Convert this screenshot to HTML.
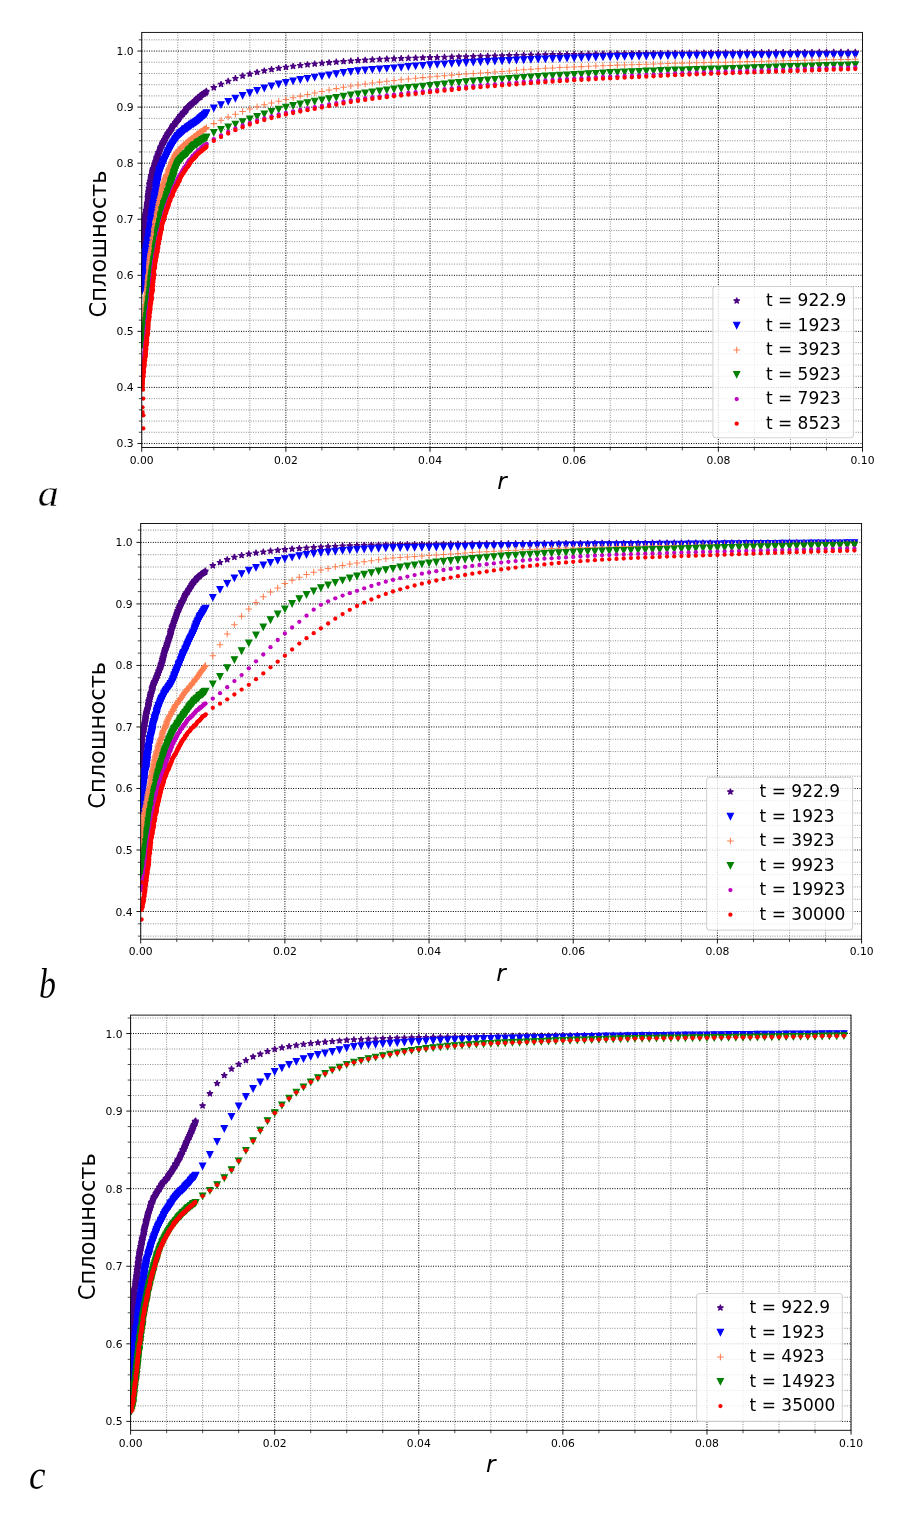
<!DOCTYPE html>
<html lang="ru"><head><meta charset="utf-8"><title>Сплошность</title>
<style>html,body{margin:0;padding:0;background:#fff}svg{display:block}text{filter:grayscale(1)}</style></head><body>
<svg width="908" height="1520" viewBox="0 0 908 1520">
<rect width="908" height="1520" fill="#fff"/>
<defs><marker id="kp" markerUnits="userSpaceOnUse" markerWidth="12" markerHeight="12" viewBox="-6 -6 12 12" refX="0" refY="0" overflow="visible"><path d="M0,-3.25L0.73,-1L3.09,-1L1.18,0.38L1.91,2.63L0,1.24L-1.91,2.63L-1.18,0.38L-3.09,-1L-0.73,-1Z" fill="#4b0082" stroke="#4b0082" stroke-width="1.05" stroke-linejoin="bevel"/></marker>
<g id="sp"><path d="M0,-3.25L0.73,-1L3.09,-1L1.18,0.38L1.91,2.63L0,1.24L-1.91,2.63L-1.18,0.38L-3.09,-1L-0.73,-1Z" fill="#4b0082" stroke="#4b0082" stroke-width="1.05" stroke-linejoin="bevel"/></g>
<marker id="kb" markerUnits="userSpaceOnUse" markerWidth="12" markerHeight="12" viewBox="-6 -6 12 12" refX="0" refY="0" overflow="visible"><path d="M-3.1,-3.1L3.1,-3.1L0,3.1Z" fill="#0000ff" stroke="#0000ff" stroke-width="1.05" stroke-linejoin="miter"/></marker>
<g id="sb"><path d="M-3.1,-3.1L3.1,-3.1L0,3.1Z" fill="#0000ff" stroke="#0000ff" stroke-width="1.05" stroke-linejoin="miter"/></g>
<marker id="ko" markerUnits="userSpaceOnUse" markerWidth="12" markerHeight="12" viewBox="-6 -6 12 12" refX="0" refY="0" overflow="visible"><path d="M-3.25,0H3.25M0,-3.25V3.25" fill="none" stroke="#ff7f50" stroke-width="1.05"/></marker>
<g id="so"><path d="M-3.25,0H3.25M0,-3.25V3.25" fill="none" stroke="#ff7f50" stroke-width="1.05"/></g>
<marker id="kg" markerUnits="userSpaceOnUse" markerWidth="12" markerHeight="12" viewBox="-6 -6 12 12" refX="0" refY="0" overflow="visible"><path d="M-3.1,-3.1L3.1,-3.1L0,3.1Z" fill="#008000" stroke="#008000" stroke-width="1.05" stroke-linejoin="miter"/></marker>
<g id="sg"><path d="M-3.1,-3.1L3.1,-3.1L0,3.1Z" fill="#008000" stroke="#008000" stroke-width="1.05" stroke-linejoin="miter"/></g>
<marker id="km" markerUnits="userSpaceOnUse" markerWidth="12" markerHeight="12" viewBox="-6 -6 12 12" refX="0" refY="0" overflow="visible"><circle r="2.15" fill="#bf00bf"/></marker>
<g id="sm"><circle r="2.15" fill="#bf00bf"/></g>
<marker id="kr" markerUnits="userSpaceOnUse" markerWidth="12" markerHeight="12" viewBox="-6 -6 12 12" refX="0" refY="0" overflow="visible"><circle r="2.15" fill="#ff0000"/></marker>
<g id="sr"><circle r="2.15" fill="#ff0000"/></g></defs>
<clipPath id="c0"><rect x="141.73" y="32.4" width="720.77" height="415.1"/></clipPath>
<g clip-path="url(#c0)">
<path d="M177.77,32.4V447.5M213.81,32.4V447.5M249.85,32.4V447.5M321.92,32.4V447.5M357.96,32.4V447.5M394,32.4V447.5M466.08,32.4V447.5M502.12,32.4V447.5M538.15,32.4V447.5M610.23,32.4V447.5M646.27,32.4V447.5M682.31,32.4V447.5M754.38,32.4V447.5M790.42,32.4V447.5M826.46,32.4V447.5" fill="none" stroke="#000" stroke-width="1.0" stroke-dasharray="1 1.42" stroke-opacity="0.45"/>
<path d="M141.73,432.27H862.5M141.73,421.06H862.5M141.73,409.84H862.5M141.73,398.63H862.5M141.73,376.21H862.5M141.73,365H862.5M141.73,353.78H862.5M141.73,342.57H862.5M141.73,320.15H862.5M141.73,308.94H862.5M141.73,297.72H862.5M141.73,286.51H862.5M141.73,264.09H862.5M141.73,252.88H862.5M141.73,241.66H862.5M141.73,230.45H862.5M141.73,208.03H862.5M141.73,196.82H862.5M141.73,185.6H862.5M141.73,174.39H862.5M141.73,151.97H862.5M141.73,140.76H862.5M141.73,129.54H862.5M141.73,118.33H862.5M141.73,95.91H862.5M141.73,84.7H862.5M141.73,73.48H862.5M141.73,62.27H862.5M141.73,39.85H862.5" fill="none" stroke="#000" stroke-width="1.0" stroke-dasharray="1 1.42" stroke-opacity="0.45"/>
<path d="M141.73,32.4V447.5M285.88,32.4V447.5M430.04,32.4V447.5M574.19,32.4V447.5M718.35,32.4V447.5M862.5,32.4V447.5" fill="none" stroke="#000" stroke-width="1.0" stroke-dasharray="1 1.42"/>
<path d="M141.73,443.48H862.5M141.73,387.42H862.5M141.73,331.36H862.5M141.73,275.3H862.5M141.73,219.24H862.5M141.73,163.18H862.5M141.73,107.12H862.5M141.73,51.06H862.5" fill="none" stroke="#000" stroke-width="1.0" stroke-dasharray="1 1.42"/>
<polyline points="141.9,247.3 142.2,246.5 142.1,245.7 141.7,244.8 141.8,244.1 142.4,243.3 141.6,242.4 142.5,241.7 142.6,240.9 142.3,240.1 142.2,239.2 142.3,238.4 142.3,237.6 142.6,236.9 142.7,236.1 142.9,235.3 143.4,234.5 143.3,233.7 143.2,232.9 143.6,232.1 142.9,231.2 143,230.4 143.5,229.7 143,228.8 143.1,228 143.7,227.3 143.7,226.5 144.2,225.7 144.1,224.9 144,224.1 144.1,223.3 144,222.5 143.9,221.6 144.1,220.9 144.7,220.1 144.4,219.3 144.7,218.5 144.4,217.6 145.4,217 144.8,216.1 145.1,215.3 145.8,214.6 145.6,213.8 146.1,213.1 146.1,212.2 146.4,211.5 146,210.6 146.7,209.9 146.8,209.1 147.3,208.4 146.9,207.5 147.3,206.7 146.9,205.9 147.3,205.1 147.3,204.3 147.2,203.5 148,202.8 147.6,201.9 148.3,201.2 148,200.3 148.1,199.5 148.2,198.7 148.3,198 147.9,197.1 148.3,196.3 148.2,195.5 148.4,194.7 148.2,193.9 149.2,193.2 148.5,192.3 149.1,191.6 148.8,190.7 149.4,190 149.3,189.2 148.9,188.3 149.7,187.6 149.9,186.8 150,186 149.8,185.2 149.5,184.3 149.7,183.5 150.6,182.9 150.4,182 150.1,181.2 151,180.5 150.9,179.7 151,178.9 151,178.1 151.2,177.3 151.3,176.5 151.3,175.6 152.3,175.1 152.1,174.2 152.3,173.4 152.3,172.6 152.9,171.9 152.4,171 153,170.3 152.9,169.4 153.2,168.6 154.2,168.1 154.1,167.3 154.1,166.4 154.5,165.7 155,165 154.8,164.1 155.2,163.4 155.6,162.7 155.5,161.8 155.9,161.1 156.4,160.4 156.8,159.7 156.3,158.7 157.3,158.2 156.7,157.1 157.7,156.6 158,155.9 157.7,154.9 158.2,154.2 158.9,153.6 158.4,152.6 159.3,152.1 159.7,151.4 159.8,150.5 160.2,149.8 160.1,148.9 160.3,148.2 160.8,147.5 160.9,146.7 161.4,146 162.3,145.5 162.2,144.6 162.3,143.8 162.6,143 163.6,142.5 163.4,141.6 164.3,141.1 164.2,140.2 164.6,139.5 165.3,139 165.6,138.2 165.8,137.4 166.1,136.6 166.9,136.2 166.9,135.3 167.8,134.8 167.5,133.7 168.2,133.2 168.7,132.6 169.5,132.2 169.4,131.1 170.3,130.7 170.6,130 171.1,129.4 171.5,128.6 172.2,128.2 172.1,127.1 172.6,126.5 172.9,125.7 173.3,125 173.9,124.4 174.9,124.2 175.3,123.5 175.2,122.4 176.1,122.1 176.5,121.3 177,120.8 177.6,120.2 177.8,119.3 178.8,119.1 178.9,118.1 179.5,117.6 180,117 180.1,116.1 180.5,115.4 181.3,114.9 182.1,114.5 182.6,114 183.1,113.3 183.1,112.3 184.3,112.2 184.7,111.5 185.3,111 185.6,110.1 186.4,109.8 186.3,108.6 186.9,108 187.4,107.5 188.2,107 188.7,106.5 189.3,105.9 190.1,105.6 190.3,104.6 191.3,104.5 191.6,103.6 192.5,103.4 192.6,102.4 193.4,102.1 194.4,102 194.7,101.1 195.5,100.8 196,100.1 196.6,99.6 196.9,98.7 197.8,98.5 198,97.6 199.1,97.6 199.9,97.2 200.4,96.7 200.5,95.5 201.3,95.2 202,94.7 202.5,94.1 203.4,94 204.2,93.7 204.5,92.8 205.5,92.8 206.1,92.2 206.4,91.2 213.8,87.6 221,84.3 228.2,81.2 235.4,78.4 242.6,76 249.8,74 257.1,72.3 264.3,70.8 271.5,69.5 278.7,68.3 285.9,67.3 293.1,66.3 300.3,65.4 307.5,64.6 314.7,63.9 321.9,63.2 329.1,62.6 336.3,62 343.5,61.5 350.8,61 358,60.5 365.2,60.1 372.4,59.7 379.6,59.3 386.8,59 394,58.7 401.2,58.4 408.4,58.2 415.6,58 422.8,57.8 430,57.6 437.2,57.4 444.5,57.2 451.7,57 458.9,56.8 466.1,56.7 473.3,56.5 480.5,56.3 487.7,56.2 494.9,56 502.1,55.8 509.3,55.6 516.5,55.4 523.7,55.2 530.9,55 538.2,54.9 545.4,54.8 552.6,54.6 559.8,54.6 567,54.5 574.2,54.4 581.4,54.3 588.6,54.2 595.8,54.1 603,54 610.2,53.9 617.4,53.8 624.6,53.7 631.9,53.6 639.1,53.5 646.3,53.4 653.5,53.3 660.7,53.3 667.9,53.2 675.1,53.1 682.3,53 689.5,53 696.7,52.9 703.9,52.8 711.1,52.8 718.3,52.7 725.6,52.7 732.8,52.7 740,52.6 747.2,52.6 754.4,52.5 761.6,52.5 768.8,52.5 776,52.4 783.2,52.4 790.4,52.4 797.6,52.3 804.8,52.3 812,52.3 819.3,52.2 826.5,52.2 833.7,52.2 840.9,52.2 848.1,52.2 855.3,52.2" fill="none" stroke="none" marker-start="url(#kp)" marker-mid="url(#kp)" marker-end="url(#kp)"/>
<polyline points="142,290.5 142.2,289.7 141.6,288.8 142,288 142.1,287.2 142.2,286.4 141.7,285.6 142.3,284.9 142.4,284.1 142.6,283.3 142.7,282.5 142.3,281.6 142.7,280.9 143,280.1 143.1,279.3 142.4,278.4 142.3,277.6 143,276.9 142.7,276 143.1,275.3 143.6,274.5 143.1,273.6 143,272.8 143.3,272.1 143.6,271.3 143.1,270.4 143.5,269.7 143.3,268.8 143.9,268.1 144.2,267.3 143.8,266.5 143.9,265.7 144.1,264.9 143.9,264.1 144,263.3 144.2,262.5 144.4,261.7 144.1,260.8 144.9,260.1 144.8,259.3 144.6,258.5 144.5,257.7 145.3,257 144.8,256.1 144.9,255.3 145,254.5 145.1,253.7 146,253 145.5,252.1 145.7,251.3 146.4,250.6 146.3,249.8 146.1,248.9 146.5,248.2 147.1,247.5 146.8,246.6 147.3,245.9 146.9,245 147.7,244.4 148,243.6 148.2,242.8 148.2,242 148,241.2 147.9,240.3 148.4,239.6 148.8,238.9 148.4,238 148.5,237.2 148.9,236.4 149.2,235.7 149.5,234.9 148.8,234 149,233.2 149.7,232.5 149.7,231.7 149.9,230.9 150.3,230.2 150.3,229.4 150.4,228.5 150.4,227.7 150.2,226.9 150.5,226.1 150.2,225.3 150.9,224.6 151,223.8 151.1,223 150.9,222.1 151,221.3 151.1,220.6 150.8,219.7 151.8,219 151.6,218.2 151.5,217.4 151.8,216.6 152.1,215.8 151.9,215 152.4,214.3 152.6,213.5 152.2,212.6 152.1,211.8 152.8,211.1 153.1,210.3 152.4,209.4 153.1,208.7 153.3,207.9 153.5,207.1 152.9,206.2 153,205.4 154,204.8 153.3,203.8 153.5,203.1 154.1,202.3 154.1,201.5 154.5,200.8 154.1,199.9 155,199.3 154.4,198.3 155.1,197.6 154.6,196.7 155.1,196 154.8,195.2 155.2,194.4 155.3,193.6 155.8,192.9 155.7,192 155.4,191.2 156.4,190.5 156.4,189.7 156.6,188.9 156,188 156.3,187.3 156.2,186.5 156.3,185.6 156.3,184.8 156.9,184.1 156.7,183.3 156.8,182.5 157.6,181.8 157.4,181 157.2,180.1 157.9,179.4 157.6,178.5 158,177.8 157.9,177 158.3,176.2 158.6,175.5 158.7,174.7 158.8,173.9 159.4,173.2 159.7,172.5 159.3,171.5 159.5,170.7 159.7,169.9 160.8,169.5 161.1,168.7 160.7,167.7 161.7,167.3 161.3,166.2 161.9,165.6 162.3,164.9 163,164.3 162.5,163.2 163,162.6 163.6,162 163.4,161 163.9,160.4 164.4,159.7 165.2,159.2 165.4,158.4 165.8,157.7 166.1,156.9 166.3,156.2 166.8,155.5 167,154.7 167.4,154 167.4,153.1 167.6,152.3 168.5,151.9 168.3,150.9 169.4,150.5 169.5,149.7 169.6,148.8 170.5,148.4 170.2,147.3 170.9,146.8 170.9,145.9 172.1,145.6 172.1,144.7 172.7,144.2 172.7,143.2 173.5,142.8 173.9,142 174.2,141.3 174.9,140.8 175,139.9 175.4,139.2 176.1,138.7 176.7,138.2 176.8,137.2 177.5,136.8 177.7,135.9 178.5,135.5 179.2,135.1 179.3,134 180.3,133.9 180.4,132.9 181.6,133 181.9,132.1 182.4,131.5 183.2,131.3 183.7,130.6 184.5,130.2 184.7,129.2 185.6,129.1 186.3,128.6 187.1,128.5 187.3,127.3 188.2,127.2 188.9,126.9 189.6,126.4 190,125.5 190.9,125.5 191.4,124.7 192,124.2 193.1,124.3 193.3,123.3 194.1,123.1 194.9,122.8 195.6,122.3 196.1,121.7 196.9,121.5 197.4,120.7 198.1,120.3 198.8,120 199.4,119.4 200,118.9 200.5,118.2 201.2,117.8 201.7,117.2 202.5,116.9 202.9,116.1 203.6,115.6 204.4,115.3 204.8,114.6 205.3,114 206.2,113.8 206.5,112.9 213.8,108.2 221,104.8 228.2,101.5 235.4,98.4 242.6,95.5 249.8,92.9 257.1,90.5 264.3,88.2 271.5,86.1 278.7,84.2 285.9,82.5 293.1,81 300.3,79.7 307.5,78.5 314.7,77.3 321.9,76.2 329.1,75 336.3,73.9 343.5,72.7 350.8,71.7 358,70.9 365.2,70.2 372.4,69.6 379.6,69.1 386.8,68.6 394,68 401.2,67.4 408.4,66.7 415.6,66.1 422.8,65.5 430,64.9 437.2,64.4 444.5,64 451.7,63.5 458.9,63.1 466.1,62.7 473.3,62.3 480.5,61.9 487.7,61.6 494.9,61.2 502.1,60.9 509.3,60.5 516.5,60.2 523.7,59.9 530.9,59.5 538.2,59.2 545.4,59 552.6,58.7 559.8,58.5 567,58.2 574.2,58 581.4,57.8 588.6,57.5 595.8,57.3 603,57.1 610.2,56.9 617.4,56.7 624.6,56.6 631.9,56.4 639.1,56.3 646.3,56.2 653.5,56 660.7,55.9 667.9,55.8 675.1,55.7 682.3,55.6 689.5,55.6 696.7,55.5 703.9,55.5 711.1,55.5 718.3,55.4 725.6,55.4 732.8,55.4 740,55.4 747.2,55.3 754.4,55.3 761.6,55.3 768.8,55.3 776,55.2 783.2,55.2 790.4,55.2 797.6,55.2 804.8,55.2 812,55.2 819.3,55.1 826.5,55.1 833.7,55.1 840.9,55.1 848.1,55.1 855.3,55.1" fill="none" stroke="none" marker-start="url(#kb)" marker-mid="url(#kb)" marker-end="url(#kb)"/>
<polyline points="142,331.5 142.4,330.8 142.3,329.9 142.8,329.2 142.4,328.3 142.9,327.6 143.5,326.9 143.4,326 143.5,325.2 143.7,324.4 143.9,323.7 143.9,322.8 143.8,322 143.7,321.2 143.9,320.4 144.1,319.6 144.3,318.9 145,318.1 144.4,317.3 144.6,316.5 144.7,315.7 145,314.9 145.4,314.1 145.5,313.3 145.1,312.5 145.1,311.7 145.8,310.9 145.5,310.1 145.8,309.3 145.2,308.5 146.1,307.7 145.6,306.9 145.9,306.1 145.6,305.3 145.9,304.5 146.4,303.7 146.5,302.9 146.2,302.1 146.5,301.3 146.3,300.5 146.3,299.7 146.5,298.9 146.2,298.1 146.4,297.3 146.9,296.5 147,295.7 146.4,294.9 147.2,294.1 147.3,293.4 147,292.5 146.7,291.7 147.4,290.9 147.1,290.1 147.6,289.3 147.4,288.5 147.7,287.7 147.4,286.9 147.7,286.1 147.8,285.3 148,284.5 147.7,283.7 148.5,283 147.9,282.1 148,281.3 148,280.5 147.9,279.7 148.3,278.9 148.7,278.2 148.7,277.4 148.3,276.5 148.3,275.7 148.6,274.9 149.1,274.2 148.9,273.3 149.4,272.6 149.2,271.8 149.2,271 149.4,270.2 149.5,269.4 149.2,268.5 149.1,267.7 149.4,266.9 149.5,266.1 149.2,265.3 149.6,264.5 149.9,263.8 149.5,262.9 149.6,262.1 149.7,261.3 149.9,260.5 150.7,259.8 149.8,258.9 150.1,258.1 150.1,257.3 150.5,256.6 150.2,255.7 150.7,255 150.5,254.1 150.7,253.4 151.4,252.6 150.9,251.8 151.4,251 151.3,250.2 151.4,249.4 151.9,248.7 151.4,247.8 152.3,247.1 152.4,246.3 152.3,245.5 151.8,244.6 152.5,243.9 152.6,243.1 152.9,242.3 152.4,241.4 153.3,240.8 153.3,239.9 152.7,239 153,238.3 152.8,237.4 153.7,236.8 153.9,236 154.1,235.2 153.9,234.3 154,233.6 154.2,232.8 154.2,232 154.7,231.2 154.5,230.4 154.3,229.5 154.6,228.8 154.3,227.9 155.1,227.2 155.2,226.4 155.1,225.6 155.6,224.9 155.7,224.1 155.4,223.2 155.3,222.4 155.5,221.6 155.7,220.8 155.9,220.1 156.2,219.3 156.8,218.6 156.3,217.7 157.1,217 157,216.2 157.3,215.4 157,214.5 156.8,213.7 157.7,213 157.3,212.1 157.3,211.3 158.1,210.7 158.2,209.8 157.8,209 158,208.2 158.9,207.5 158.3,206.6 158.9,205.9 158.5,205 159.4,204.4 158.8,203.4 159.4,202.7 159.1,201.8 159.8,201.2 160.2,200.4 159.6,199.5 160,198.8 160.6,198.1 160.6,197.3 160.5,196.4 161,195.7 161,194.9 161.5,194.1 161.1,193.3 161.7,192.6 161.7,191.7 162,191 161.8,190.1 162.3,189.4 162.4,188.6 162.3,187.8 162.1,186.9 163.2,186.3 163.2,185.5 162.9,184.6 163.7,184 163.5,183.1 163.9,182.4 164.6,181.8 164.5,180.9 164.6,180.1 165,179.3 165.1,178.5 165.5,177.8 165.9,177.1 166.1,176.3 166.3,175.6 167,175 167,174.1 167.8,173.6 168.2,172.9 167.9,171.9 168.4,171.2 168.6,170.4 168.5,169.5 168.8,168.8 169.8,168.3 169.6,167.4 170.2,166.7 169.8,165.7 170.6,165.2 171.1,164.5 171.4,163.8 170.9,162.7 171.7,162.2 171.9,161.4 172.6,160.8 172.3,159.8 172.9,159.2 173.7,158.7 173.8,157.8 174.1,157.1 174.9,156.6 174.7,155.6 174.9,154.8 175.6,154.2 175.8,153.4 176.2,152.7 177,152.3 177.8,151.9 178,151 178.5,150.4 178.8,149.6 179.5,149.2 180.2,148.7 180.7,148.1 181.4,147.7 181.8,146.9 182.2,146.1 183,145.9 183.6,145.3 184,144.5 184.9,144.4 185.6,144 185.8,142.9 186.7,142.7 187.4,142.4 187.8,141.6 188.3,141 189,140.5 189.8,140.2 190.5,139.8 191,139.2 191.4,138.4 192.5,138.4 193.2,138 193.3,136.9 194,136.5 194.6,136 195.7,136 196.4,135.6 196.5,134.4 197.3,134.2 197.9,133.6 198.7,133.4 199.6,133.3 199.8,132.1 200.5,131.7 201.3,131.5 202,131.1 202.8,130.8 203.3,130.1 203.7,129.4 204.5,129.1 205.5,129.2 206.1,128.5 206.4,127.5 213.8,123.6 221,120.3 228.2,117.1 235.4,114.2 242.6,111.5 249.8,109 257.1,106.8 264.3,104.8 271.5,103 278.7,101.2 285.9,99.4 293.1,97.7 300.3,96.1 307.5,94.4 314.7,92.9 321.9,91.4 329.1,90 336.3,88.6 343.5,87.2 350.8,86 358,84.9 365.2,83.9 372.4,82.9 379.6,82.1 386.8,81.3 394,80.5 401.2,79.7 408.4,79 415.6,78.3 422.8,77.6 430,76.9 437.2,76.3 444.5,75.7 451.7,75.1 458.9,74.5 466.1,74 473.3,73.5 480.5,72.9 487.7,72.4 494.9,71.9 502.1,71.4 509.3,70.9 516.5,70.3 523.7,69.7 530.9,69.2 538.2,68.7 545.4,68.3 552.6,67.9 559.8,67.5 567,67.2 574.2,66.9 581.4,66.6 588.6,66.2 595.8,66 603,65.7 610.2,65.4 617.4,65.1 624.6,64.9 631.9,64.7 639.1,64.4 646.3,64.2 653.5,63.9 660.7,63.7 667.9,63.5 675.1,63.2 682.3,63.1 689.5,62.9 696.7,62.8 703.9,62.6 711.1,62.5 718.3,62.3 725.6,62.2 732.8,62 740,61.8 747.2,61.6 754.4,61.4 761.6,61.2 768.8,61.1 776,60.9 783.2,60.7 790.4,60.5 797.6,60.4 804.8,60.2 812,60.1 819.3,59.9 826.5,59.8 833.7,59.7 840.9,59.5 848.1,59.4 855.3,59.2" fill="none" stroke="none" marker-start="url(#ko)" marker-mid="url(#ko)" marker-end="url(#ko)"/>
<polyline points="142,345.4 141.7,344.6 142.3,343.9 141.7,342.9 142.7,342.3 142.2,341.4 142.6,340.6 143,339.9 143,339.1 142.8,338.2 142.9,337.4 143.2,336.7 143.1,335.8 143.5,335.1 143.5,334.3 144,333.6 144.1,332.8 144.4,332 144.3,331.2 144.2,330.3 144.6,329.6 145.2,328.9 144.9,328 145.1,327.2 145.6,326.5 145.4,325.7 146.1,325 146.2,324.2 145.8,323.3 146.4,322.6 146,321.7 146.1,320.9 146.5,320.2 146.8,319.4 147.2,318.6 146.5,317.7 147.2,317 147,316.2 146.8,315.4 147.7,314.6 147.5,313.8 147,313 147.9,312.2 147.2,311.4 147.3,310.6 147.6,309.8 148.3,309.1 147.5,308.2 148.4,307.5 148.2,306.6 147.8,305.8 148.4,305 148.4,304.2 148.6,303.4 148.8,302.7 148.8,301.9 149.3,301.1 148.5,300.2 149.3,299.5 149,298.6 149.4,297.9 149.6,297.1 149.8,296.3 149.2,295.4 149.5,294.7 150.1,293.9 150.2,293.1 149.7,292.3 150.4,291.5 149.9,290.7 150,289.9 150.5,289.1 150.3,288.3 150.4,287.5 150.4,286.7 150.5,285.9 150.3,285.1 150.3,284.3 151.1,283.6 151,282.7 151.2,281.9 151.4,281.2 151,280.3 151,279.5 151.2,278.7 151.3,277.9 151.8,277.2 151.6,276.3 151.6,275.5 152,274.8 151.7,273.9 151.7,273.1 152.4,272.4 152.6,271.6 152.3,270.8 152.7,270 152.3,269.1 152.8,268.4 153.1,267.6 152.9,266.8 153.1,266 153.5,265.3 153.6,264.5 153.3,263.6 153.9,262.9 153.4,262 154.4,261.4 153.8,260.5 154,259.7 154.1,258.9 155,258.2 154.4,257.3 154.8,256.5 155.3,255.8 155.4,255 154.6,254.1 155.2,253.4 155.4,252.6 155.6,251.8 155.4,251 155.5,250.2 155.3,249.3 155.5,248.5 156.1,247.8 155.7,247 156,246.2 156.2,245.4 156.1,244.6 156.2,243.8 157.2,243.1 156.8,242.2 156.7,241.4 157.3,240.7 156.7,239.8 157,239 157.9,238.3 157.9,237.5 157.8,236.7 157.3,235.8 157.7,235.1 157.5,234.2 157.8,233.5 157.7,232.7 157.9,231.9 158.5,231.2 158.1,230.3 158.3,229.5 159.2,228.8 158.8,227.9 158.9,227.2 158.8,226.3 159.7,225.7 159.7,224.8 159.7,224 159.9,223.3 159.6,222.4 159.9,221.6 160.4,220.9 160.9,220.2 160.9,219.4 160.9,218.5 160.9,217.7 160.6,216.9 161.6,216.2 161,215.3 161.2,214.5 161.9,213.8 162.2,213.1 162.3,212.3 162.2,211.4 162.1,210.6 162.1,209.8 163.1,209.2 163.4,208.5 162.9,207.5 163.8,206.9 163.5,206 163.7,205.2 164.1,204.5 163.9,203.6 164.6,202.9 164.6,202.1 165.4,201.5 165.4,200.7 166,200.1 166.3,199.3 166,198.4 166.3,197.6 167.1,197 167,196.1 166.8,195.2 167,194.5 168.1,194 167.9,193.1 167.7,192.2 168.3,191.5 168.5,190.7 168.7,190 169.4,189.3 169.6,188.6 169.1,187.6 169.3,186.8 169.8,186.1 170.5,185.5 170.5,184.6 170.8,183.9 170.9,183.1 170.8,182.2 171.7,181.6 171.2,180.6 172.1,180.1 171.8,179.2 172.4,178.5 173.1,177.9 172.9,177 172.8,176.1 173.4,175.5 173.8,174.8 173.5,173.8 174,173.1 174,172.3 174.7,171.7 174.8,170.9 175.2,170.1 175.2,169.3 175.8,168.7 175.6,167.7 176.5,167.2 176.8,166.5 176.7,165.6 177,164.8 177.6,164.2 177.5,163.3 178.3,162.8 178.3,161.9 179.1,161.5 179.3,160.6 180,160.1 180.8,159.8 180.7,158.6 181.8,158.5 182.2,157.8 182.6,157.1 183.2,156.5 183.6,155.8 184.3,155.3 185.1,155 185.2,154.1 186.2,153.8 186.9,153.4 187.5,152.9 188,152.2 188.4,151.6 188.5,150.5 189.6,150.5 189.6,149.4 190.7,149.3 191.3,148.7 191.7,148 192.2,147.4 192.6,146.6 193.4,146.4 193.9,145.7 194.5,145.1 195.1,144.6 196.2,144.7 196.9,144.3 197.1,143.2 197.7,142.7 198.5,142.4 199.1,141.9 199.8,141.5 200.7,141.3 201.2,140.7 201.9,140.3 202.4,139.6 203.3,139.6 203.8,138.8 204.5,138.5 205.2,138.1 206.1,138 206.5,137 213.8,132.5 221,129.7 228.2,127 235.4,124.3 242.6,121.8 249.8,119.2 257.1,116.7 264.3,114.1 271.5,111.7 278.7,109.4 285.9,107.4 293.1,105.7 300.3,104.2 307.5,102.8 314.7,101.4 321.9,100.1 329.1,98.8 336.3,97.6 343.5,96.4 350.8,95.2 358,94.1 365.2,93.1 372.4,92 379.6,91 386.8,90.1 394,89.2 401.2,88.4 408.4,87.7 415.6,87 422.8,86.3 430,85.6 437.2,84.8 444.5,84 451.7,83.2 458.9,82.5 466.1,81.8 473.3,81.2 480.5,80.6 487.7,80.1 494.9,79.6 502.1,79.1 509.3,78.6 516.5,78 523.7,77.5 530.9,77 538.2,76.5 545.4,76.1 552.6,75.8 559.8,75.4 567,75.1 574.2,74.7 581.4,74.3 588.6,73.9 595.8,73.5 603,73.1 610.2,72.7 617.4,72.4 624.6,72.1 631.9,71.8 639.1,71.5 646.3,71.2 653.5,71 660.7,70.7 667.9,70.4 675.1,70.2 682.3,70 689.5,69.8 696.7,69.6 703.9,69.4 711.1,69.2 718.3,69.1 725.6,68.8 732.8,68.6 740,68.3 747.2,68.1 754.4,67.8 761.6,67.6 768.8,67.4 776,67.1 783.2,66.9 790.4,66.7 797.6,66.5 804.8,66.3 812,66 819.3,65.8 826.5,65.6 833.7,65.4 840.9,65.3 848.1,65.1 855.3,64.9" fill="none" stroke="none" marker-start="url(#kg)" marker-mid="url(#kg)" marker-end="url(#kg)"/>
<polyline points="142.6,376.2 142.3,375.4 142.9,374.6 142.5,373.8 142.7,373 143.1,372.3 143,371.4 142.5,370.6 142.6,369.8 143.5,369.1 142.6,368.2 143,367.4 143.7,366.7 142.8,365.8 143,365 143.2,364.2 143.1,363.4 143.6,362.7 143.8,361.9 143.6,361.1 143.5,360.2 144.3,359.5 144.4,358.7 144.2,357.9 143.9,357.1 144.4,356.3 144.6,355.5 144.4,354.7 145,354 144.6,353.1 144.8,352.3 144.5,351.5 145,350.7 145.3,350 145.3,349.2 144.9,348.3 145.7,347.6 145.6,346.8 145.3,346 145.4,345.2 145.9,344.4 145.3,343.5 145.9,342.8 146,342 145.9,341.2 146.4,340.4 146,339.6 146.1,338.8 146,338 146.7,337.2 146.2,336.4 146.7,335.6 146.5,334.8 147.1,334.1 147.2,333.3 146.3,332.4 147.4,331.7 147.1,330.8 146.6,330 147.1,329.2 146.7,328.4 147.3,327.7 147,326.8 147.3,326 147.3,325.2 147.6,324.5 147.9,323.7 148.1,322.9 147.6,322.1 147.9,321.3 147.4,320.4 147.8,319.7 148.5,318.9 147.8,318 148.6,317.3 148.5,316.5 148.2,315.7 148.8,314.9 148.4,314.1 149.1,313.4 148.4,312.5 148.5,311.7 149.2,311 149,310.1 148.8,309.3 149.3,308.6 149.2,307.7 149.5,307 149.8,306.2 150,305.4 149.3,304.5 149.9,303.8 150.4,303.1 150,302.2 150.4,301.4 149.8,300.6 150.7,299.9 150.5,299 150.9,298.3 150.9,297.5 151.1,296.7 150.4,295.8 151.1,295.1 150.7,294.2 150.9,293.4 151,292.7 151.4,291.9 151.5,291.1 151.9,290.3 151.1,289.4 151.4,288.7 151.6,287.9 152.1,287.1 152,286.3 152,285.5 152.3,284.7 152.3,283.9 152,283.1 151.9,282.3 152.3,281.5 152.8,280.8 152.6,279.9 152.1,279.1 152.6,278.3 152.6,277.5 152.8,276.8 152.9,276 153.4,275.2 152.8,274.3 153,273.6 153.3,272.8 153.6,272 153.5,271.2 153.4,270.4 153.8,269.6 153.6,268.8 154.2,268.1 153.6,267.2 153.5,266.4 154.3,265.7 153.9,264.8 154.6,264.1 154.4,263.3 154.4,262.4 154.2,261.6 155,260.9 154.4,260 155.4,259.4 155.5,258.6 155,257.7 155,256.9 155.9,256.2 155.6,255.3 155.4,254.5 155.9,253.8 155.8,252.9 156.1,252.2 156.5,251.4 156.9,250.7 156.9,249.9 156.4,249 156.8,248.2 157,247.5 157.6,246.8 156.9,245.8 157.4,245.1 157.9,244.4 157.6,243.5 157.6,242.7 158,242 157.9,241.1 158.7,240.5 158,239.5 158.3,238.7 158.3,237.9 159.1,237.3 158.8,236.4 159.6,235.7 159.8,235 160,234.2 159.5,233.3 159.4,232.4 159.9,231.7 160.7,231.1 160.6,230.2 160.1,229.3 160.9,228.7 161.3,227.9 161.5,227.2 161.5,226.3 161.8,225.6 162,224.8 161.7,223.9 161.6,223.1 162.4,222.4 162,221.5 162.5,220.8 163.3,220.2 163,219.3 163.2,218.5 163.8,217.9 163.4,216.9 164.3,216.4 164.5,215.6 164.2,214.6 164.4,213.9 164.4,213 165.4,212.5 165,211.5 165,210.7 166.1,210.2 166.1,209.4 166.4,208.6 166.7,207.9 166.3,206.9 166.7,206.2 167.3,205.6 167.1,204.7 167.8,204.1 168.3,203.4 168.5,202.6 168.8,201.8 168.5,200.9 169,200.2 169.9,199.7 169.4,198.7 170.1,198.1 170,197.2 171.1,196.7 170.6,195.7 171.1,195 171.5,194.3 172,193.6 172.5,193 172.6,192.2 172.5,191.3 172.5,190.4 173.4,189.9 173.9,189.3 173.3,188.2 174.3,187.7 174.1,186.7 174.7,186.1 175,185.4 175.4,184.7 176.1,184.1 176.1,183.3 176.2,182.4 176.9,181.8 177,181 177.3,180.3 177.6,179.5 178.1,178.9 178.3,178.1 178.6,177.3 178.9,176.6 179.5,176 179.8,175.2 180.6,174.8 181,174.1 181,173.2 181.6,172.6 182.3,172.1 182.2,171.1 182.8,170.5 183.1,169.8 183.7,169.2 184.4,168.7 184.1,167.6 185.3,167.4 185.5,166.5 186,165.9 186.3,165.2 187,164.7 187,163.7 187.7,163.2 187.9,162.3 188.5,161.8 189.1,161.3 189.2,160.4 189.6,159.6 190.7,159.5 191.2,158.9 191.6,158.2 191.8,157.3 192.6,156.9 192.7,156 193.7,155.7 194.2,155.1 194.7,154.5 195.2,153.8 195.6,153.1 196.5,152.9 196.9,152.2 197.7,151.8 198,151 198.4,150.2 199.3,150 199.9,149.5 200.7,149.2 201.3,148.7 201.3,147.5 202.4,147.5 202.7,146.6 203.6,146.4 204,145.7 204.6,145.2 205.3,144.8 206,144.3 206.7,144 213.8,139.2 221,135.4 228.2,131.8 235.4,128.5 242.6,125.5 249.8,122.8 257.1,120.5 264.3,118.3 271.5,116.3 278.7,114.5 285.9,112.8 293.1,111.3 300.3,109.9 307.5,108.5 314.7,107.2 321.9,105.9 329.1,104.5 336.3,103.1 343.5,101.7 350.8,100.4 358,99.2 365.2,98.2 372.4,97.2 379.6,96.3 386.8,95.5 394,94.6 401.2,93.8 408.4,93 415.6,92.2 422.8,91.4 430,90.6 437.2,89.9 444.5,89.1 451.7,88.3 458.9,87.5 466.1,86.8 473.3,86.2 480.5,85.5 487.7,84.9 494.9,84.3 502.1,83.7 509.3,83.2 516.5,82.6 523.7,82 530.9,81.5 538.2,81 545.4,80.5 552.6,80 559.8,79.5 567,79.1 574.2,78.6 581.4,78.2 588.6,77.8 595.8,77.4 603,77 610.2,76.7 617.4,76.3 624.6,76 631.9,75.7 639.1,75.3 646.3,75 653.5,74.6 660.7,74.3 667.9,73.9 675.1,73.5 682.3,73.2 689.5,72.9 696.7,72.7 703.9,72.4 711.1,72.2 718.3,71.9 725.6,71.7 732.8,71.4 740,71.2 747.2,70.9 754.4,70.7 761.6,70.5 768.8,70.2 776,70 783.2,69.8 790.4,69.6 797.6,69.3 804.8,69 812,68.8 819.3,68.5 826.5,68.3 833.7,68 840.9,67.8 848.1,67.6 855.3,67.4" fill="none" stroke="none" marker-start="url(#km)" marker-mid="url(#km)" marker-end="url(#km)"/>
<polyline points="143.3,428.4 143.4,415.3 142.5,412.2 142.5,407.3 143.3,398.6 143,389.7 142.3,387.4 142.4,386.6 142.2,385.8 142.6,385 142.3,384.2 142.6,383.4 142.6,382.6 142.7,381.8 142.3,381 142.8,380.2 142.6,379.4 142.8,378.6 142.6,377.8 143.3,377.1 143.6,376.3 143.1,375.4 142.9,374.6 143.5,373.9 143.1,373 143.9,372.3 143.2,371.4 143.5,370.7 143.7,369.9 143.4,369 143.7,368.3 143.7,367.5 144.2,366.7 144.6,365.9 144,365.1 144.5,364.3 144,363.5 144.5,362.7 144.4,361.9 144.4,361.1 145,360.3 145,359.5 144.5,358.7 144.7,357.9 145.4,357.2 145.6,356.4 145.3,355.5 145.7,354.8 145.9,354 145.7,353.2 145.7,352.4 145.4,351.5 145.6,350.7 145.9,350 146.3,349.2 145.8,348.3 145.9,347.6 145.7,346.7 146.4,346 146.2,345.2 146.7,344.4 146.2,343.6 146.7,342.8 146.8,342 146.7,341.2 146.5,340.4 146.8,339.6 147.2,338.8 146.7,338 146.7,337.2 147.2,336.4 147,335.6 147.7,334.9 147.8,334.1 148,333.3 147.9,332.5 147.8,331.7 147.5,330.8 148.2,330.1 148.1,329.3 148.2,328.5 148.2,327.7 148.4,326.9 148,326 148.4,325.3 148.3,324.5 148.2,323.6 148.3,322.8 148.2,322 148.6,321.3 148.6,320.5 148.7,319.7 149.2,318.9 149.1,318.1 149.2,317.3 149.6,316.5 148.9,315.7 149.3,314.9 149,314.1 149.4,313.3 150,312.6 149.3,311.7 150,311 150.2,310.2 150,309.3 150.4,308.6 150.1,307.7 150.1,306.9 150.4,306.2 150.1,305.3 150.4,304.5 150.5,303.7 151.2,303 150.7,302.2 150.7,301.4 151.5,300.6 150.8,299.8 151.7,299.1 151.7,298.3 151.6,297.4 151.4,296.6 151.3,295.8 151.3,295 151.4,294.2 151.8,293.4 151.9,292.6 152.5,291.9 152.2,291.1 152.8,290.3 152.6,289.5 152.1,288.6 152.6,287.9 152.3,287 152.3,286.2 153.2,285.5 152.7,284.7 152.6,283.9 152.6,283.1 153.2,282.3 153.1,281.5 152.7,280.7 153.5,279.9 153.1,279.1 153.7,278.3 153.5,277.5 153.6,276.7 153.6,275.9 153.9,275.1 154.3,274.4 154.2,273.5 153.5,272.7 154,271.9 153.9,271.1 153.8,270.3 154,269.5 154.2,268.7 155,268 154.8,267.2 155,266.4 155,265.6 154.7,264.7 154.9,264 155.1,263.2 155,262.4 155.3,261.6 155.8,260.9 155.2,259.9 155.5,259.2 155.9,258.4 156.2,257.7 156.3,256.9 156.5,256.1 156.1,255.2 156.3,254.4 156.5,253.7 156.6,252.9 157.2,252.2 157.6,251.4 157.4,250.6 156.9,249.7 157.3,248.9 158,248.2 158.2,247.5 158,246.6 157.9,245.8 158.1,245 158.5,244.3 158.8,243.5 158.5,242.6 158.5,241.8 158.4,241 158.7,240.2 159.6,239.6 159.5,238.8 160,238 159.3,237.1 159.7,236.3 160.3,235.6 160.3,234.8 159.9,233.9 160.4,233.2 160.8,232.5 161,231.7 161,230.9 160.9,230 161.8,229.4 161.5,228.5 161.9,227.8 161.9,227 161.7,226.1 162,225.4 162,224.5 162.3,223.8 162.5,223 162.9,222.3 163,221.5 163.3,220.7 163.9,220.1 163.3,219.1 163.6,218.3 164.5,217.7 164.5,216.9 164.6,216.1 164.7,215.3 165.2,214.6 165.1,213.7 165.9,213.2 166.2,212.4 165.9,211.5 165.9,210.6 167,210.1 166.6,209.2 167.2,208.5 167.7,207.8 167.9,207.1 168.2,206.3 168.1,205.5 168.7,204.8 168.6,203.9 168.7,203.1 169.2,202.4 169.3,201.6 170,201 170.3,200.3 170,199.3 170.3,198.6 170.8,197.9 171.2,197.2 171.9,196.6 172.2,195.9 172.6,195.2 172.7,194.4 173,193.6 172.9,192.7 173.4,192 173.4,191.1 174.5,190.8 174.3,189.8 174.5,189 175.1,188.4 175.4,187.7 176.2,187.2 175.9,186.1 176.4,185.5 177.4,185.1 177.7,184.4 177.9,183.5 178.2,182.8 178.2,181.9 179.2,181.5 179.5,180.8 179.6,179.9 179.7,179.1 180.1,178.4 180.6,177.7 180.9,177 181.1,176.2 181.8,175.6 182.2,175 182.5,174.2 182.9,173.5 183.3,172.8 183.8,172.2 184.4,171.6 184.7,170.9 184.9,170 185.8,169.7 186,168.8 186.4,168.1 187.1,167.6 187.6,167 188.1,166.4 188.5,165.7 188.9,165 189.4,164.4 189.4,163.4 190.3,163.1 190.4,162.2 190.9,161.5 191.3,160.8 192.1,160.4 192.3,159.5 193.3,159.3 193.9,158.8 194.4,158.2 194.5,157.2 195.4,156.9 196.1,156.5 196.1,155.4 196.8,154.9 197.4,154.4 198.1,154 198.5,153.2 199.3,152.9 199.8,152.2 200.6,151.9 201.1,151.3 201.8,150.9 202.1,150 203,149.8 203.6,149.3 204.2,148.8 204.4,147.8 205.6,148 206,147.2 206.5,146.5 213.8,140.9 221,137.1 228.2,133.5 235.4,130.2 242.6,127.2 249.8,124.5 257.1,122.1 264.3,120 271.5,118 278.7,116.2 285.9,114.5 293.1,113 300.3,111.5 307.5,110.2 314.7,108.9 321.9,107.6 329.1,106.2 336.3,104.8 343.5,103.4 350.8,102.1 358,100.9 365.2,99.9 372.4,98.9 379.6,98 386.8,97.2 394,96.3 401.2,95.5 408.4,94.7 415.6,93.9 422.8,93.1 430,92.3 437.2,91.5 444.5,90.7 451.7,90 458.9,89.2 466.1,88.5 473.3,87.8 480.5,87.2 487.7,86.6 494.9,86 502.1,85.4 509.3,84.8 516.5,84.3 523.7,83.7 530.9,83.2 538.2,82.7 545.4,82.2 552.6,81.7 559.8,81.2 567,80.8 574.2,80.3 581.4,79.9 588.6,79.5 595.8,79.1 603,78.7 610.2,78.4 617.4,78 624.6,77.7 631.9,77.3 639.1,77 646.3,76.7 653.5,76.3 660.7,75.9 667.9,75.6 675.1,75.2 682.3,74.9 689.5,74.6 696.7,74.3 703.9,74.1 711.1,73.8 718.3,73.6 725.6,73.3 732.8,73.1 740,72.8 747.2,72.6 754.4,72.4 761.6,72.1 768.8,71.9 776,71.7 783.2,71.5 790.4,71.2 797.6,71 804.8,70.7 812,70.5 819.3,70.2 826.5,70 833.7,69.7 840.9,69.5 848.1,69.3 855.3,69.1" fill="none" stroke="none" marker-start="url(#kr)" marker-mid="url(#kr)" marker-end="url(#kr)"/>
</g>
<path d="M141.73,447.5v4.3M285.88,447.5v4.3M430.04,447.5v4.3M574.19,447.5v4.3M718.35,447.5v4.3M862.5,447.5v4.3M141.73,443.48h-4.3M141.73,387.42h-4.3M141.73,331.36h-4.3M141.73,275.3h-4.3M141.73,219.24h-4.3M141.73,163.18h-4.3M141.73,107.12h-4.3M141.73,51.06h-4.3" stroke="#000" stroke-width="0.9" fill="none"/>
<path d="M177.77,447.5v2.9M213.81,447.5v2.9M249.85,447.5v2.9M321.92,447.5v2.9M357.96,447.5v2.9M394,447.5v2.9M466.08,447.5v2.9M502.12,447.5v2.9M538.15,447.5v2.9M610.23,447.5v2.9M646.27,447.5v2.9M682.31,447.5v2.9M754.38,447.5v2.9M790.42,447.5v2.9M826.46,447.5v2.9M141.73,432.27h-2.9M141.73,421.06h-2.9M141.73,409.84h-2.9M141.73,398.63h-2.9M141.73,376.21h-2.9M141.73,365h-2.9M141.73,353.78h-2.9M141.73,342.57h-2.9M141.73,320.15h-2.9M141.73,308.94h-2.9M141.73,297.72h-2.9M141.73,286.51h-2.9M141.73,264.09h-2.9M141.73,252.88h-2.9M141.73,241.66h-2.9M141.73,230.45h-2.9M141.73,208.03h-2.9M141.73,196.82h-2.9M141.73,185.6h-2.9M141.73,174.39h-2.9M141.73,151.97h-2.9M141.73,140.76h-2.9M141.73,129.54h-2.9M141.73,118.33h-2.9M141.73,95.91h-2.9M141.73,84.7h-2.9M141.73,73.48h-2.9M141.73,62.27h-2.9M141.73,39.85h-2.9" stroke="#000" stroke-width="0.7" fill="none"/>
<rect x="141.73" y="32.4" width="720.77" height="415.1" fill="none" stroke="#000" stroke-width="0.9"/>
<g font-family='"DejaVu Sans","Liberation Sans",sans-serif' font-size="10.75" fill="#000">
<text x="141.73" y="463.7" text-anchor="middle">0.00</text>
<text x="285.88" y="463.7" text-anchor="middle">0.02</text>
<text x="430.04" y="463.7" text-anchor="middle">0.04</text>
<text x="574.19" y="463.7" text-anchor="middle">0.06</text>
<text x="718.35" y="463.7" text-anchor="middle">0.08</text>
<text x="862.5" y="463.7" text-anchor="middle">0.10</text>
<text x="133.73" y="447.48" text-anchor="end">0.3</text>
<text x="133.73" y="391.42" text-anchor="end">0.4</text>
<text x="133.73" y="335.36" text-anchor="end">0.5</text>
<text x="133.73" y="279.3" text-anchor="end">0.6</text>
<text x="133.73" y="223.24" text-anchor="end">0.7</text>
<text x="133.73" y="167.18" text-anchor="end">0.8</text>
<text x="133.73" y="111.12" text-anchor="end">0.9</text>
<text x="133.73" y="55.06" text-anchor="end">1.0</text>
</g>
<text x="502.12" y="488.8" text-anchor="middle" font-family='"DejaVu Sans","Liberation Sans",sans-serif' font-size="23.3" font-style="italic">r</text>
<text transform="translate(106.13,243.95) rotate(-90)" text-anchor="middle" font-family='"DejaVu Sans","Liberation Sans",sans-serif' font-size="22.6">Сплошность</text>
<rect x="712.9" y="286.5" width="140.6" height="151.2" rx="3" ry="3" fill="#fff" fill-opacity="0.8" stroke="#ccc" stroke-opacity="0.8" stroke-width="1.1"/>
<g font-family='"DejaVu Sans","Liberation Sans",sans-serif' font-size="17" fill="#000">
<use href="#sp" x="736.7" y="300.8"/>
<text x="765.9" y="306.2">t = 922.9</text>
<use href="#sb" x="736.7" y="325.37"/>
<text x="765.9" y="330.77">t = 1923</text>
<use href="#so" x="736.7" y="349.94"/>
<text x="765.9" y="355.34">t = 3923</text>
<use href="#sg" x="736.7" y="374.51"/>
<text x="765.9" y="379.91">t = 5923</text>
<use href="#sm" x="736.7" y="399.08"/>
<text x="765.9" y="404.48">t = 7923</text>
<use href="#sr" x="736.7" y="423.65"/>
<text x="765.9" y="429.05">t = 8523</text>
</g>
<text transform="translate(37.7,506) scale(1.105,1)" font-family='"Liberation Serif","DejaVu Serif",serif' font-style="italic" font-size="38" stroke="#fff" stroke-width="0.35">a</text>
<clipPath id="c1"><rect x="140.7" y="523.55" width="720.9" height="415.65"/></clipPath>
<g clip-path="url(#c1)">
<path d="M176.75,523.55V939.2M212.79,523.55V939.2M248.83,523.55V939.2M320.93,523.55V939.2M356.97,523.55V939.2M393.02,523.55V939.2M465.11,523.55V939.2M501.15,523.55V939.2M537.2,523.55V939.2M609.29,523.55V939.2M645.33,523.55V939.2M681.38,523.55V939.2M753.47,523.55V939.2M789.51,523.55V939.2M825.56,523.55V939.2" fill="none" stroke="#000" stroke-width="1.0" stroke-dasharray="1 1.42" stroke-opacity="0.45"/>
<path d="M140.7,936.13H861.6M140.7,923.82H861.6M140.7,899.22H861.6M140.7,886.91H861.6M140.7,874.61H861.6M140.7,862.3H861.6M140.7,837.7H861.6M140.7,825.39H861.6M140.7,813.09H861.6M140.7,800.78H861.6M140.7,776.18H861.6M140.7,763.87H861.6M140.7,751.57H861.6M140.7,739.26H861.6M140.7,714.66H861.6M140.7,702.35H861.6M140.7,690.05H861.6M140.7,677.74H861.6M140.7,653.14H861.6M140.7,640.83H861.6M140.7,628.53H861.6M140.7,616.22H861.6M140.7,591.62H861.6M140.7,579.31H861.6M140.7,567.01H861.6M140.7,554.7H861.6M140.7,530.1H861.6" fill="none" stroke="#000" stroke-width="1.0" stroke-dasharray="1 1.42" stroke-opacity="0.45"/>
<path d="M140.7,523.55V939.2M284.88,523.55V939.2M429.06,523.55V939.2M573.24,523.55V939.2M717.42,523.55V939.2M861.6,523.55V939.2" fill="none" stroke="#000" stroke-width="1.0" stroke-dasharray="1 1.42"/>
<path d="M140.7,911.52H861.6M140.7,850H861.6M140.7,788.48H861.6M140.7,726.96H861.6M140.7,665.44H861.6M140.7,603.92H861.6M140.7,542.4H861.6" fill="none" stroke="#000" stroke-width="1.0" stroke-dasharray="1 1.42"/>
<polyline points="140.6,766.3 140.7,765.5 140.8,764.7 140.5,763.9 140.6,763.1 140.7,762.3 141.2,761.5 140.9,760.7 140.5,759.9 140.9,759.1 140.7,758.3 140.6,757.5 141.6,756.7 140.9,755.9 141.2,755.1 141.1,754.3 140.8,753.5 141.7,752.7 141.7,751.9 141,751.1 141.3,750.3 141.3,749.5 141.1,748.7 141.7,747.9 141.8,747.1 141.8,746.3 141.8,745.5 141.2,744.7 141.4,743.9 141.8,743.1 142,742.3 141.8,741.5 141.9,740.7 142.3,740 141.6,739.1 141.9,738.3 142.1,737.5 142.8,736.8 142.2,735.9 142.1,735.1 142.6,734.4 143,733.6 142.6,732.7 143.4,732.1 143,731.2 143.6,730.5 143.2,729.6 144.1,728.9 143.6,728 144.3,727.3 144.5,726.6 144.1,725.7 144.1,724.8 144.7,724.1 144.7,723.3 144.9,722.5 145.3,721.8 145.1,721 145.3,720.2 145.5,719.4 145.6,718.6 145.7,717.8 145.6,717 145.9,716.2 146,715.4 146.1,714.6 146.8,714 146.3,713 146.6,712.3 147,711.5 147,710.7 147.1,709.9 147.4,709.2 147.6,708.4 148,707.6 148.4,706.9 148.5,706.1 148.2,705.2 148.4,704.5 148.5,703.7 148.5,702.9 149.4,702.2 148.7,701.3 149,700.5 149.6,699.8 149.8,699 149.6,698.2 150.4,697.5 150.1,696.6 150.5,695.9 150.2,695 151.1,694.4 150.6,693.4 151,692.7 151.7,692.1 152,691.3 152.1,690.6 152.3,689.8 152,688.8 152,688 152.7,687.4 152.5,686.5 153.6,686 153,684.9 153.6,684.3 153.7,683.5 153.8,682.7 154.6,682.1 154.4,681.2 155.5,680.7 155.6,679.9 155.6,679 156.3,678.5 156.5,677.7 156.4,676.8 157.2,676.2 157.5,675.5 157.6,674.7 157.6,673.8 158.5,673.3 158.8,672.6 158.6,671.6 158.7,670.8 159.7,670.3 159.8,669.5 159.7,668.6 160.3,668 160.3,667.1 161.2,666.6 160.9,665.6 161,664.8 161,664 161.5,663.3 162.4,662.7 161.8,661.8 162.3,661.1 162.9,660.4 162.2,659.4 162.7,658.7 163.4,658 162.8,657.1 163.8,656.5 163.9,655.7 163.5,654.7 164.1,654.1 164.3,653.3 164.6,652.6 164.5,651.7 164.8,651 164.9,650.1 165.2,649.4 165.3,648.6 166.3,648.1 166.5,647.3 166.3,646.4 166.9,645.7 166.9,644.9 167,644.1 167.3,643.3 168.1,642.8 167.8,641.8 168.2,641.1 168.8,640.5 168.4,639.5 169.1,638.9 168.7,637.9 169.5,637.3 169.8,636.6 170.1,635.8 170.4,635.1 170.4,634.2 170.9,633.5 170.4,632.6 170.9,631.9 170.8,631 170.9,630.2 171.5,629.5 172,628.9 172.3,628.1 171.8,627.1 172.9,626.6 172.5,625.7 172.8,624.9 173.5,624.3 173.8,623.6 173.9,622.8 173.8,621.9 174.2,621.2 174.8,620.5 174.6,619.6 175.3,619 175.5,618.2 175.5,617.4 176.2,616.8 176,615.8 176.6,615.2 176.8,614.4 176.8,613.6 177.2,612.9 177.6,612.2 177.8,611.4 177.7,610.5 178.8,610.1 179.1,609.3 178.5,608.2 179.7,607.8 179.6,606.9 179.6,606 180.5,605.6 180.5,604.7 181.1,604.1 181.5,603.4 181.6,602.6 181.5,601.6 182.6,601.3 182.8,600.5 183.4,599.9 183.2,598.9 184,598.4 184.5,597.7 184.4,596.8 184.8,596.1 185.2,595.4 185.3,594.5 185.9,593.9 186.4,593.3 186.6,592.5 187.6,592.1 187.7,591.3 188.2,590.7 188.4,589.8 188.9,589.2 189.6,588.7 189.8,587.9 190.3,587.2 190.6,586.5 191.1,585.9 191.8,585.4 191.7,584.4 192.4,583.8 193,583.2 192.9,582.2 194.1,582.1 194.2,581.2 194.5,580.4 195.4,580.1 196,579.6 196.4,578.9 197.1,578.5 197.1,577.3 198,577.1 198.7,576.7 199.4,576.2 199.8,575.5 200.4,574.9 200.8,574.2 201.6,573.9 202.2,573.4 203,573.2 203.7,572.7 204.3,572.2 205.1,572 205.4,570.9 212.8,565.6 220,562.4 227.2,559.6 234.4,557.2 241.6,555.4 248.8,554 256,552.9 263.3,551.9 270.5,551 277.7,550.3 284.9,549.6 292.1,549 299.3,548.5 306.5,548 313.7,547.5 320.9,547.1 328.1,546.7 335.3,546.4 342.6,546 349.8,545.7 357,545.5 364.2,545.3 371.4,545.1 378.6,545 385.8,544.8 393,544.7 400.2,544.6 407.4,544.5 414.6,544.4 421.9,544.3 429.1,544.3 436.3,544.2 443.5,544.1 450.7,544 457.9,543.9 465.1,543.9 472.3,543.8 479.5,543.8 486.7,543.7 493.9,543.7 501.2,543.6 508.4,543.6 515.6,543.6 522.8,543.5 530,543.5 537.2,543.5 544.4,543.4 551.6,543.4 558.8,543.4 566,543.3 573.2,543.3 580.4,543.3 587.7,543.3 594.9,543.2 602.1,543.2 609.3,543.2 616.5,543.2 623.7,543.1 630.9,543.1 638.1,543.1 645.3,543.1 652.5,543 659.7,543 667,543 674.2,543 681.4,543 688.6,542.9 695.8,542.9 703,542.9 710.2,542.9 717.4,542.9 724.6,542.8 731.8,542.8 739,542.8 746.3,542.8 753.5,542.8 760.7,542.8 767.9,542.8 775.1,542.8 782.3,542.8 789.5,542.7 796.7,542.7 803.9,542.7 811.1,542.7 818.3,542.7 825.6,542.7 832.8,542.7 840,542.7 847.2,542.7 854.4,542.7" fill="none" stroke="none" marker-start="url(#kp)" marker-mid="url(#kp)" marker-end="url(#kp)"/>
<polyline points="141,811 140.7,810.1 141.1,809.4 140.7,808.5 140.9,807.7 141.4,807 140.7,806.1 141,805.3 141.2,804.6 141.7,803.8 141.2,802.9 141.8,802.2 141.3,801.3 141.4,800.6 141.8,799.8 141.9,799 142.2,798.2 142.3,797.4 141.8,796.6 142.3,795.8 142.3,795 142.1,794.2 142.6,793.4 142.8,792.6 142.5,791.8 143,791.1 142.3,790.2 142.4,789.4 143.1,788.7 142.7,787.8 143.1,787 143.1,786.2 142.9,785.4 143.5,784.7 143.6,783.9 143.1,783 143.4,782.2 144,781.5 144.2,780.7 144.3,779.9 144,779.1 144,778.3 144.2,777.5 144.1,776.7 144.5,775.9 144.4,775.1 144.4,774.3 144.8,773.5 144.6,772.7 145.1,772 145.5,771.2 145.6,770.4 146,769.7 146,768.9 145.9,768 146.3,767.3 146,766.4 146.5,765.7 146.1,764.8 146.4,764.1 147,763.3 146.7,762.5 146.7,761.7 147.1,760.9 146.8,760.1 147.4,759.3 146.7,758.4 147,757.7 147,756.9 147.2,756.1 148,755.4 147.2,754.5 147.6,753.7 148,753 148.2,752.2 148.4,751.4 148.1,750.6 148.1,749.7 148.8,749 148.2,748.1 148.3,747.3 148.5,746.6 148.9,745.8 149.5,745.1 149.4,744.3 149.4,743.5 149.5,742.7 149.8,741.9 149.9,741.1 149.7,740.3 149.6,739.4 149.9,738.7 150.6,738 150.6,737.2 151,736.4 150.4,735.5 151.4,734.9 151.1,734 151.8,733.3 151.6,732.5 151.8,731.7 152.2,731 152.2,730.2 152.4,729.4 152.1,728.5 152.7,727.8 152.7,727 152.6,726.1 152.8,725.4 153.4,724.7 153.3,723.8 154,723.2 153.6,722.3 153.7,721.5 154.9,720.9 154.4,720 154.8,719.3 154.7,718.4 155,717.6 155.4,716.9 156,716.3 155.5,715.3 156.4,714.7 156.8,714 156.6,713.1 156.7,712.3 156.8,711.5 157,710.7 157.3,710 158.1,709.4 157.5,708.4 158.5,707.9 158.7,707.1 158.4,706.1 158.7,705.4 159.6,704.9 159.9,704.1 159.8,703.2 160.7,702.7 160.4,701.7 160.9,701.1 160.9,700.2 161.8,699.7 161.6,698.7 162,698 162.9,697.6 163,696.7 163.5,696.1 164,695.4 164.2,694.7 164.2,693.8 165.1,693.3 165,692.3 165.5,691.7 166.1,691.1 166.2,690.3 166.7,689.6 167.6,689.2 168.1,688.6 168.2,687.7 168.7,687.1 169,686.3 169.7,685.8 170.2,685.2 170.9,684.7 170.6,683.6 171.7,683.3 172.2,682.6 172,681.6 172.7,681.1 173.1,680.4 173.2,679.6 173.2,678.7 173.8,678.1 174.4,677.4 174,676.4 174.6,675.8 174.5,674.9 175.5,674.4 175.8,673.7 175.4,672.6 176.3,672.1 176.5,671.4 176.3,670.4 177,669.8 177.4,669.1 177.4,668.3 177.8,667.6 178.6,667 178.6,666.2 178.8,665.4 178.7,664.5 179,663.8 180,663.3 180.2,662.5 180.6,661.8 180.7,661 181,660.2 181.2,659.5 181.7,658.8 181.7,657.9 182.2,657.2 182.4,656.5 182.9,655.8 182.8,654.9 183,654.1 183.4,653.4 183.8,652.7 184.7,652.3 184.9,651.5 185.3,650.7 185.3,649.9 185.3,649 186,648.4 186.7,647.9 186.7,647 187.1,646.3 187.2,645.5 187.3,644.6 188.1,644.1 188.3,643.3 188.5,642.5 188.7,641.8 189.5,641.2 189.5,640.3 190,639.7 190.1,638.9 190.9,638.4 190.9,637.5 191.3,636.8 192,636.2 192.2,635.4 192.5,634.7 192.5,633.8 193.3,633.3 193.2,632.4 194.1,631.9 194.3,631.1 194.4,630.3 194.8,629.6 194.9,628.7 195.3,628.1 195.1,627.1 196.2,626.7 196.3,625.9 196,624.9 196.4,624.2 197,623.5 197.5,622.9 197.2,621.9 198.3,621.5 198.1,620.5 199,620.1 199.2,619.3 199.3,618.5 199.6,617.7 199.7,616.9 200.1,616.1 201,615.7 201.5,615.1 202,614.4 201.9,613.5 202.8,613.1 202.7,612.1 203.7,611.7 204.1,611.1 203.9,610 204.9,609.7 205.3,609 205.7,608.3 212.8,597.5 220,589.5 227.2,583.5 234.4,578.1 241.6,573.8 248.8,570.4 256,567.6 263.3,565 270.5,562.6 277.7,560.5 284.9,558.8 292.1,557.3 299.3,555.9 306.5,554.7 313.7,553.6 320.9,552.7 328.1,552 335.3,551.3 342.6,550.6 349.8,550.1 357,549.6 364.2,549.2 371.4,548.8 378.6,548.4 385.8,548.1 393,547.9 400.2,547.7 407.4,547.6 414.6,547.5 421.9,547.4 429.1,547.3 436.3,547.2 443.5,547 450.7,546.9 457.9,546.7 465.1,546.6 472.3,546.4 479.5,546.2 486.7,546.1 493.9,546 501.2,545.8 508.4,545.8 515.6,545.7 522.8,545.6 530,545.5 537.2,545.4 544.4,545.4 551.6,545.3 558.8,545.2 566,545.2 573.2,545.1 580.4,545 587.7,545 594.9,544.9 602.1,544.9 609.3,544.8 616.5,544.8 623.7,544.7 630.9,544.7 638.1,544.6 645.3,544.6 652.5,544.5 659.7,544.4 667,544.4 674.2,544.3 681.4,544.3 688.6,544.2 695.8,544.2 703,544.1 710.2,544 717.4,544 724.6,543.9 731.8,543.9 739,543.8 746.3,543.7 753.5,543.7 760.7,543.6 767.9,543.6 775.1,543.5 782.3,543.4 789.5,543.4 796.7,543.3 803.9,543.3 811.1,543.2 818.3,543.1 825.6,543.1 832.8,543 840,543 847.2,542.9 854.4,542.8" fill="none" stroke="none" marker-start="url(#kb)" marker-mid="url(#kb)" marker-end="url(#kb)"/>
<polyline points="141,850 140.8,849.2 140.8,848.4 140.8,847.6 141.4,846.8 141.5,846 140.8,845.2 141.5,844.4 141.1,843.6 141,842.8 141.1,842 141.6,841.2 141.4,840.4 141.4,839.6 141.3,838.8 141.6,838 142.2,837.2 141.5,836.4 142,835.6 142.2,834.8 141.7,834 142.1,833.2 142.8,832.5 142.9,831.7 142.9,830.9 142.3,830 142.9,829.3 142.7,828.4 142.5,827.6 142.9,826.8 143.5,826.1 143.5,825.3 143.1,824.4 142.9,823.6 143.8,822.9 144,822.1 143.6,821.3 143.4,820.4 143.8,819.7 144.1,818.9 144,818.1 143.9,817.3 143.9,816.5 144.1,815.7 144,814.8 144.3,814.1 145.1,813.4 144.3,812.4 145.1,811.8 145.3,811 145,810.1 145.4,809.4 145.1,808.5 145.7,807.8 145.9,807 146.1,806.2 146,805.4 146.6,804.7 146.6,803.9 146.5,803.1 146.8,802.3 146.5,801.4 147.4,800.8 147.2,799.9 147.6,799.2 147.2,798.3 148.1,797.7 147.4,796.7 148,796 147.7,795.1 148,794.4 148.7,793.7 148.2,792.8 148.7,792 148.6,791.2 149.4,790.6 148.8,789.6 149.3,788.9 149.9,788.2 149.9,787.4 150.1,786.6 150.5,785.9 149.7,784.9 150.4,784.2 150.7,783.4 150.8,782.6 150.9,781.9 150.4,781 150.6,780.2 151.4,779.5 151.3,778.7 151.1,777.8 151,777 151.7,776.3 151.4,775.4 152.2,774.7 151.9,773.9 152.5,773.2 151.9,772.3 152.5,771.5 152.2,770.7 153,770 153,769.2 152.8,768.3 153.7,767.7 153.5,766.8 153.4,766 154,765.3 153.7,764.4 154.4,763.8 154,762.8 154.8,762.2 154.1,761.2 154.9,760.6 154.7,759.7 155,759 155.4,758.2 155,757.3 155.4,756.6 155.5,755.8 156.3,755.1 156,754.2 156.5,753.5 156.5,752.7 156.6,751.9 157.5,751.3 157.3,750.4 157.7,749.7 157.9,748.9 158.3,748.2 157.9,747.3 158,746.5 158.6,745.8 158.5,744.9 158.6,744.1 159.7,743.6 159.6,742.8 159.7,741.9 159.6,741.1 160.5,740.5 160.5,739.7 160.4,738.8 161.4,738.3 161.6,737.5 161.9,736.7 162,736 162,735.1 162,734.3 162.6,733.6 162.4,732.7 163.1,732.1 162.9,731.2 163.1,730.4 164,729.9 164,729 164.6,728.4 165,727.6 165.3,726.9 165.4,726.1 165.9,725.4 166,724.6 166.6,724 166.9,723.2 166.4,722.2 166.9,721.5 167.4,720.8 167.6,720 167.8,719.3 168.8,718.8 168.4,717.8 168.8,717.1 169.7,716.6 169.6,715.7 170,715 171,714.6 171.2,713.8 171.3,712.9 171.4,712.1 171.9,711.4 172.9,711.1 173.1,710.3 172.9,709.2 173.8,708.9 174,708 174.7,707.5 174.7,706.6 175,705.8 175.3,705.1 176,704.5 176.9,704.2 177.4,703.5 177.7,702.7 178.1,702.1 178.1,701.1 178.7,700.6 179.6,700.2 180.2,699.6 180.2,698.6 180.9,698.2 181.5,697.6 182,697 182,696 182.7,695.5 183,694.7 183.6,694.1 184,693.5 184.4,692.8 184.7,692 185.8,691.8 186.2,691.1 186.8,690.6 186.7,689.5 187.3,688.9 188.1,688.5 188.9,688.1 189,687.2 189.3,686.4 190.1,686 190.9,685.6 191.3,685 191.9,684.4 192,683.4 192.4,682.7 193.4,682.5 193.8,681.8 194.4,681.2 194.5,680.3 195,679.6 195.4,679 196.4,678.7 196.9,678.1 197,677.2 197.9,676.8 198,675.9 198.5,675.3 199.1,674.7 199.3,673.9 199.8,673.3 200.3,672.6 200.7,672 201.4,671.5 201.5,670.6 202.6,670.3 202.5,669.3 203.2,668.8 203.9,668.3 203.9,667.3 204.6,666.8 205.2,666.3 205.6,665.6 212.8,655.7 220,644.8 227.2,633.9 234.4,624.7 241.6,616.2 248.8,609 256,602.4 263.3,596.8 270.5,592 277.7,587.9 284.9,583.5 292.1,580.2 299.3,577.2 306.5,574.5 313.7,572.2 320.9,570.1 328.1,568.4 335.3,566.8 342.6,565.4 349.8,564.1 357,562.9 364.2,561.7 371.4,560.7 378.6,559.7 385.8,558.8 393,558 400.2,557.4 407.4,556.9 414.6,556.4 421.9,555.9 429.1,555.4 436.3,554.9 443.5,554.4 450.7,553.9 457.9,553.4 465.1,552.9 472.3,552.5 479.5,552.1 486.7,551.7 493.9,551.3 501.2,550.9 508.4,550.5 515.6,550.2 522.8,549.8 530,549.5 537.2,549.2 544.4,548.9 551.6,548.6 558.8,548.3 566,548.1 573.2,547.9 580.4,547.7 587.7,547.5 594.9,547.3 602.1,547.1 609.3,546.9 616.5,546.8 623.7,546.6 630.9,546.4 638.1,546.3 645.3,546.1 652.5,546 659.7,545.8 667,545.7 674.2,545.6 681.4,545.4 688.6,545.3 695.8,545.2 703,545.1 710.2,545 717.4,544.9 724.6,544.8 731.8,544.7 739,544.6 746.3,544.5 753.5,544.4 760.7,544.3 767.9,544.2 775.1,544.1 782.3,544 789.5,543.9 796.7,543.8 803.9,543.8 811.1,543.7 818.3,543.6 825.6,543.5 832.8,543.5 840,543.4 847.2,543.4 854.4,543.3" fill="none" stroke="none" marker-start="url(#ko)" marker-mid="url(#ko)" marker-end="url(#ko)"/>
<polyline points="141.1,875.9 141.2,875.1 140.7,874.2 141.6,873.6 141.5,872.7 141.8,872 141.5,871.1 142,870.4 142.3,869.6 142.6,868.9 142.8,868.1 142.3,867.2 143.1,866.5 143,865.7 143.2,864.9 143.5,864.1 143.2,863.3 143.9,862.6 144,861.8 144,861 143.7,860.1 144,859.3 143.8,858.5 144.5,857.8 144.7,857 144.1,856.1 144.8,855.4 144.9,854.6 144.4,853.7 145.4,853 145.1,852.2 145,851.4 144.8,850.5 145.7,849.8 145.3,849 145.6,848.2 145.4,847.4 145.9,846.6 145.8,845.8 146.3,845.1 146.2,844.2 146.4,843.5 146,842.6 145.9,841.8 146.9,841.1 147,840.3 146.8,839.5 147.2,838.7 147.1,837.9 147.1,837.1 147,836.3 147,835.5 147.2,834.7 147,833.8 147.3,833.1 147.5,832.3 147.1,831.4 147.6,830.7 147.5,829.9 148,829.1 148.2,828.3 148.1,827.5 148.3,826.7 148.3,825.9 148.1,825.1 148.3,824.3 148.8,823.6 149,822.8 148.4,821.9 148.3,821.1 149.3,820.4 149.3,819.6 149.2,818.8 149.5,818 149.4,817.2 149.9,816.4 149.3,815.5 149.7,814.8 150,814 149.7,813.1 150.3,812.4 150,811.6 150.6,810.9 150.9,810.1 150.6,809.2 151.4,808.6 151.2,807.7 151.4,806.9 150.9,806 151.1,805.2 151.9,804.6 152.3,803.8 152.2,803 152.6,802.3 151.9,801.3 152.9,800.7 153.1,799.9 153,799.1 153,798.3 153.4,797.5 153.2,796.6 153.8,796 153.9,795.2 154,794.4 153.9,793.5 153.8,792.7 154.1,791.9 154.9,791.3 154.5,790.4 154.5,789.6 154.8,788.8 155.2,788.1 155.5,787.3 155.9,786.6 156,785.8 156.3,785 156.4,784.2 156.1,783.3 156,782.5 156.9,781.9 156.4,780.9 156.9,780.2 156.7,779.4 157.4,778.7 157,777.8 157.4,777 157.3,776.2 158.1,775.6 158.1,774.7 158.3,774 158.1,773.1 158.2,772.3 159,771.7 159.1,770.9 159.3,770.1 159.7,769.4 159.5,768.5 159.3,767.6 160,766.9 159.9,766.1 160.3,765.4 160.5,764.6 160.8,763.9 161.4,763.2 161.5,762.4 161.4,761.5 162.1,760.9 162.4,760.1 162.5,759.4 162.6,758.5 163.2,757.9 163.1,757 163,756.1 163.4,755.4 164,754.8 164,753.9 164.3,753.2 164.5,752.4 164.6,751.6 164.7,750.8 164.9,750 165.8,749.5 165.7,748.6 166.1,747.9 166.8,747.3 166.8,746.4 167.3,745.7 167.5,745 168,744.3 167.4,743.2 168,742.6 168.9,742.1 168.7,741.1 169.5,740.6 169.1,739.5 169.3,738.8 170.4,738.3 170.2,737.4 170.7,736.7 171.4,736.2 171.1,735.1 172.1,734.7 171.9,733.8 172.2,733 172.5,732.3 173.1,731.7 173.5,731 174.2,730.5 173.9,729.3 174.3,728.7 174.9,728 175.7,727.6 176.2,727 176.4,726.2 177,725.6 177.4,724.9 177.4,723.9 178,723.4 179.1,723.1 179,722.1 179.9,721.8 180,720.8 180.2,720 180.5,719.2 181.1,718.7 181.7,718.1 182.2,717.5 182.7,716.9 183.2,716.3 183.6,715.6 183.7,714.7 184.4,714.1 185.4,713.9 185.1,712.7 186.2,712.4 186.4,711.6 187.1,711.1 187.2,710.2 187.7,709.6 188.3,709 189.1,708.6 189.1,707.6 189.3,706.8 189.8,706.1 190.9,706 191,705 191.3,704.3 192.2,704 192.9,703.5 193.3,702.7 193.5,701.8 194.2,701.4 194.6,700.7 195,700 196.2,700.1 196.4,699.1 196.8,698.3 197.9,698.3 198.5,697.8 199,697.1 199.2,696.2 199.7,695.6 200.5,695.3 201.2,694.8 202,694.5 202.7,694.1 203.2,693.5 203.5,692.6 204.3,692.3 204.7,691.5 205.6,691.4 212.8,684 220,676.5 227.2,667.8 234.4,659.8 241.6,650.9 248.8,643.1 256,635.1 263.3,627.1 270.5,619.9 277.7,614 284.9,609 292.1,603.7 299.3,598.8 306.5,594.7 313.7,591 320.9,587.9 328.1,585.1 335.3,582.6 342.6,580.3 349.8,578.2 357,576.2 364.2,574.4 371.4,572.8 378.6,571.2 385.8,569.8 393,568.5 400.2,567.2 407.4,566.1 414.6,565 421.9,564 429.1,563.1 436.3,562.2 443.5,561.4 450.7,560.7 457.9,559.9 465.1,559.3 472.3,558.6 479.5,558 486.7,557.4 493.9,556.8 501.2,556.2 508.4,555.7 515.6,555.3 522.8,554.8 530,554.4 537.2,554 544.4,553.6 551.6,553.2 558.8,552.8 566,552.5 573.2,552.2 580.4,551.9 587.7,551.6 594.9,551.4 602.1,551.1 609.3,550.9 616.5,550.7 623.7,550.5 630.9,550.3 638.1,550.1 645.3,549.9 652.5,549.7 659.7,549.5 667,549.3 674.2,549.1 681.4,548.9 688.6,548.7 695.8,548.4 703,548.2 710.2,548.1 717.4,547.9 724.6,547.7 731.8,547.5 739,547.4 746.3,547.2 753.5,547.1 760.7,546.9 767.9,546.8 775.1,546.6 782.3,546.5 789.5,546.3 796.7,546.2 803.9,546.1 811.1,545.9 818.3,545.8 825.6,545.6 832.8,545.5 840,545.4 847.2,545.2 854.4,545.1" fill="none" stroke="none" marker-start="url(#kg)" marker-mid="url(#kg)" marker-end="url(#kg)"/>
<polyline points="140.3,890.5 140.4,889.8 140.6,889 140.9,888.2 141,887.4 141.6,886.7 141.1,885.8 141.3,885 142,884.3 142.1,883.5 142.3,882.8 142.5,882 142.6,881.2 142.7,880.4 143.1,879.7 142.8,878.7 143.2,878 144,877.5 143.8,876.5 144.4,875.9 144.4,875.1 144.8,874.4 145.4,873.7 145.4,872.9 145.3,872 145.2,871.2 145.9,870.5 145.9,869.7 145.8,868.9 146.3,868.1 146.2,867.3 146.6,866.6 146.4,865.7 146.8,865 146.5,864.1 146.8,863.4 147.1,862.6 146.4,861.7 146.9,860.9 147.2,860.2 146.8,859.3 147.6,858.6 147.6,857.8 148,857.1 147.5,856.2 147.8,855.4 148.3,854.7 147.9,853.8 148.5,853.1 148.2,852.2 148.2,851.4 148.2,850.6 148.3,849.8 148.6,849.1 148.5,848.2 149.2,847.5 149.5,846.8 148.7,845.8 148.8,845 148.8,844.2 149.9,843.6 149.1,842.7 149.8,842 149.6,841.1 149.6,840.3 149.7,839.5 150.3,838.8 149.7,837.9 150.6,837.2 150.5,836.4 150.2,835.6 150.3,834.8 150.9,834 151,833.2 150.8,832.4 150.9,831.6 151.1,830.8 151.7,830.1 151.4,829.3 151.9,828.5 151.8,827.7 151.8,826.9 151.8,826.1 152.2,825.3 152.1,824.5 152.4,823.7 152,822.9 152.3,822.1 152.9,821.4 152.6,820.5 153.1,819.8 153.3,819 153.1,818.2 152.8,817.3 153.5,816.6 153.6,815.8 153.3,815 154,814.3 153.7,813.4 153.5,812.6 153.6,811.8 153.9,811 154.4,810.3 154.7,809.5 154.1,808.6 154.2,807.8 154.9,807.1 154.8,806.3 155,805.5 155.5,804.8 155.7,804 155.9,803.2 155.8,802.4 155.2,801.5 155.5,800.7 156,800 156.5,799.3 155.8,798.3 156.4,797.6 156.4,796.8 156.5,796 156.5,795.2 156.7,794.4 156.8,793.6 156.8,792.8 157.4,792.1 157.5,791.3 157.9,790.6 158,789.8 158.5,789.1 158.1,788.2 158.8,787.5 158.5,786.6 158.9,785.9 159.3,785.2 159.1,784.3 159.3,783.5 159.7,782.8 159.4,781.9 160.1,781.3 159.9,780.4 160.2,779.6 160.8,779 161.4,778.3 161.7,777.6 161.2,776.6 161.3,775.8 161.9,775.1 162.1,774.3 162.3,773.6 162.9,772.9 163.1,772.2 163.3,771.4 163.6,770.6 163.8,769.8 164.1,769.1 164.6,768.4 164.9,767.7 165.2,766.9 165.3,766.1 164.9,765.2 165.5,764.5 166,763.8 165.8,762.9 166.3,762.3 166.1,761.3 166.4,760.6 166.9,759.9 166.8,759 167.4,758.4 167.5,757.6 168.3,757 168,756.1 168.4,755.3 169,754.7 169,753.9 168.8,753 169.3,752.3 169.9,751.6 169.8,750.8 170.1,750 170.8,749.4 170.9,748.6 171,747.8 171.6,747.2 172,746.4 171.7,745.5 172.2,744.8 172.6,744.1 173.4,743.6 173,742.5 173.6,741.9 173.8,741.1 174.6,740.6 175,739.9 174.7,738.9 175.8,738.5 176,737.8 176,736.8 177,736.5 176.8,735.5 177.6,735 177.4,734 178.2,733.5 178.6,732.8 179.4,732.3 179.8,731.6 179.9,730.8 180,729.9 180.7,729.4 181.1,728.7 182.1,728.4 182.3,727.6 182.5,726.8 183,726.1 183.8,725.7 183.7,724.6 184.8,724.4 185.1,723.7 185.5,722.9 186.2,722.5 186.4,721.7 186.7,720.9 187.5,720.4 187.7,719.6 188.2,719 189,718.6 189.9,718.3 189.9,717.3 190.7,716.9 191.6,716.6 192,715.9 192.6,715.4 193,714.7 193.5,714.1 194.1,713.5 194.7,713 195.2,712.3 195.7,711.7 196.2,711 196.6,710.4 197.4,710 198.3,709.8 198.7,709.1 199.1,708.3 200.1,708.2 200.2,707.1 201.4,707.3 201.8,706.6 202.4,706 202.9,705.4 203.8,705.2 204,704.1 204.6,703.6 205.6,703.6 212.8,698.6 220,693.2 227.2,687.2 234.4,681.1 241.6,675.1 248.8,668.3 256,661.3 263.3,654.5 270.5,647.2 277.7,640 284.9,633.4 292.1,627.5 299.3,621.8 306.5,615.7 313.7,609.7 320.9,604.8 328.1,601.3 335.3,598.3 342.6,595.6 349.8,593.2 357,590.8 364.2,588.3 371.4,586 378.6,583.8 385.8,581.7 393,579.9 400.2,578.2 407.4,576.6 414.6,575.1 421.9,573.7 429.1,572.4 436.3,571.2 443.5,570 450.7,568.9 457.9,567.9 465.1,566.9 472.3,565.9 479.5,565 486.7,564.2 493.9,563.4 501.2,562.6 508.4,561.8 515.6,561.1 522.8,560.5 530,559.8 537.2,559.3 544.4,558.7 551.6,558.3 558.8,557.8 566,557.4 573.2,557 580.4,556.5 587.7,556.1 594.9,555.7 602.1,555.3 609.3,555 616.5,554.7 623.7,554.4 630.9,554.2 638.1,553.9 645.3,553.7 652.5,553.5 659.7,553.3 667,553.1 674.2,552.8 681.4,552.6 688.6,552.4 695.8,552.2 703,552 710.2,551.8 717.4,551.6 724.6,551.4 731.8,551.3 739,551.1 746.3,550.9 753.5,550.7 760.7,550.6 767.9,550.4 775.1,550.2 782.3,550.1 789.5,549.9 796.7,549.7 803.9,549.6 811.1,549.4 818.3,549.2 825.6,549 832.8,548.9 840,548.7 847.2,548.5 854.4,548.4" fill="none" stroke="none" marker-start="url(#km)" marker-mid="url(#km)" marker-end="url(#km)"/>
<polyline points="141.6,919.5 141.9,882.4 141.1,910.2 141.4,909.5 141.7,908.7 141.4,907.9 142.5,907.3 142.4,906.4 142,905.5 142.8,904.9 142.7,904.1 143,903.3 143.2,902.5 143.6,901.8 142.9,900.8 143.9,900.2 143.5,899.3 143.4,898.5 143.7,897.7 143.8,896.9 144.5,896.2 144.2,895.4 143.9,894.5 144.6,893.8 144.5,893 145,892.2 144.3,891.3 145.2,890.7 145.4,889.9 144.6,889 145.2,888.2 144.9,887.4 145.5,886.7 145.1,885.8 146,885.1 145.4,884.2 146,883.5 146.1,882.7 145.9,881.9 145.9,881.1 146.7,880.4 145.9,879.5 146.3,878.7 146.4,877.9 146.8,877.1 146.7,876.3 146.5,875.5 147.1,874.8 147.3,874 147.4,873.2 147.3,872.4 147.2,871.6 147,870.7 147.7,870 147.9,869.2 147.8,868.4 148.4,867.7 147.7,866.8 148.4,866.1 148.4,865.2 148.7,864.5 148.8,863.7 148.2,862.8 149,862.1 148.6,861.2 148.9,860.5 149.3,859.7 149,858.9 149.1,858.1 148.7,857.2 149.3,856.5 149,855.6 149.2,854.9 149.3,854.1 150,853.3 149.7,852.5 149.9,851.7 149.4,850.9 149.6,850.1 150.3,849.4 149.7,848.5 150.6,847.8 150.2,846.9 150.2,846.1 150.5,845.3 150.5,844.5 150.6,843.7 150.7,842.9 151.1,842.2 150.8,841.3 150.8,840.5 151.1,839.8 150.9,838.9 151.4,838.2 151.6,837.4 152,836.7 151.4,835.8 151.8,835 152.3,834.3 152,833.4 152.6,832.7 152.6,831.9 152.1,831 152.6,830.3 153.1,829.6 153,828.7 153.3,828 153.7,827.2 153.5,826.4 153.5,825.6 154,824.8 153.7,824 153.4,823.1 153.8,822.4 154.3,821.6 154.8,820.9 154.6,820.1 154.4,819.2 155.3,818.6 154.8,817.7 154.8,816.9 155.3,816.1 155.2,815.3 155.2,814.5 155.9,813.8 156,813 156.5,812.3 155.8,811.3 156.7,810.7 156.8,809.9 156.4,809 156.8,808.3 157.1,807.5 157,806.7 156.9,805.8 157.8,805.2 157.3,804.3 157.8,803.6 157.9,802.8 158.5,802.1 158.4,801.2 158.4,800.4 159.1,799.8 158.7,798.8 159.2,798.2 158.9,797.3 159.6,796.6 159.8,795.8 160.1,795.1 159.9,794.2 159.9,793.4 160.5,792.7 160.9,792 160.5,791.1 160.5,790.2 160.9,789.5 161.8,788.9 161.1,787.9 161.4,787.1 161.7,786.4 162.7,785.8 162.4,784.9 162.9,784.3 163.2,783.5 163.2,782.6 163.7,782 163.7,781.1 164,780.4 164.1,779.6 164,778.7 164.9,778.1 164.8,777.3 165.1,776.5 165.9,776 165.7,775.1 165.8,774.2 166.5,773.7 166.7,772.9 166.6,772 167.1,771.3 167.7,770.7 167.7,769.8 168.6,769.3 168.8,768.5 168.8,767.7 169.5,767.1 169,766 169.5,765.3 170.4,764.9 170.4,764 170.4,763.1 171.1,762.5 171.5,761.9 171.8,761.1 171.6,760.1 172,759.4 172.6,758.9 172.7,758 173.1,757.3 173.9,756.8 174.1,756 174.2,755.1 175.3,754.8 175.2,753.9 176,753.4 176.1,752.6 176.5,751.8 176.7,751 177.3,750.5 177.3,749.5 177.7,748.8 178.6,748.4 178.3,747.4 178.9,746.8 179.6,746.2 179.6,745.3 180,744.6 180.8,744.2 180.6,743.1 181,742.4 182,742.1 181.8,741.1 182.3,740.4 183.2,740 183.2,739.1 184.2,738.8 184.5,738 185,737.4 184.9,736.4 185.4,735.7 186.3,735.4 186.9,734.8 186.9,733.8 187.4,733.2 187.9,732.6 188.4,731.9 189.1,731.5 189.7,730.9 190.3,730.4 190.4,729.4 191,728.9 191.5,728.3 192.2,727.8 192.6,727.1 193.7,727 193.8,726 194.2,725.3 195.1,725.1 195.9,724.7 196.3,724 196.7,723.3 197,722.5 197.6,721.9 198.1,721.3 199,721 199.6,720.5 199.9,719.7 200.7,719.3 201.1,718.6 201.7,718.1 202,717.2 202.5,716.6 203.1,716.1 204.1,716 204.6,715.4 205.3,714.9 205.8,714.3 212.8,707.8 220,703.7 227.2,699.3 234.4,694.5 241.6,689.6 248.8,684.8 256,679.2 263.3,673.4 270.5,667.3 277.7,661.7 284.9,655.7 292.1,649.5 299.3,643.6 306.5,638.2 313.7,633.2 320.9,628.3 328.1,623.5 335.3,618.7 342.6,614.1 349.8,609.8 357,606 364.2,602.6 371.4,599.5 378.6,596.6 385.8,593.9 393,591.5 400.2,589.3 407.4,587.3 414.6,585.5 421.9,583.7 429.1,582.1 436.3,580.5 443.5,579 450.7,577.6 457.9,576.2 465.1,574.9 472.3,573.7 479.5,572.6 486.7,571.5 493.9,570.4 501.2,569.4 508.4,568.5 515.6,567.6 522.8,566.7 530,565.9 537.2,565.1 544.4,564.4 551.6,563.7 558.8,563 566,562.4 573.2,561.8 580.4,561.2 587.7,560.7 594.9,560.2 602.1,559.7 609.3,559.3 616.5,558.9 623.7,558.5 630.9,558.1 638.1,557.8 645.3,557.5 652.5,557.2 659.7,556.9 667,556.6 674.2,556.4 681.4,556.1 688.6,555.9 695.8,555.7 703,555.4 710.2,555.2 717.4,555 724.6,554.7 731.8,554.4 739,554.2 746.3,553.9 753.5,553.7 760.7,553.4 767.9,553.1 775.1,552.9 782.3,552.7 789.5,552.4 796.7,552.2 803.9,552 811.1,551.8 818.3,551.6 825.6,551.4 832.8,551.2 840,551 847.2,550.8 854.4,550.6" fill="none" stroke="none" marker-start="url(#kr)" marker-mid="url(#kr)" marker-end="url(#kr)"/>
</g>
<path d="M140.7,939.2v4.3M284.88,939.2v4.3M429.06,939.2v4.3M573.24,939.2v4.3M717.42,939.2v4.3M861.6,939.2v4.3M140.7,911.52h-4.3M140.7,850h-4.3M140.7,788.48h-4.3M140.7,726.96h-4.3M140.7,665.44h-4.3M140.7,603.92h-4.3M140.7,542.4h-4.3" stroke="#000" stroke-width="0.9" fill="none"/>
<path d="M176.75,939.2v2.9M212.79,939.2v2.9M248.83,939.2v2.9M320.93,939.2v2.9M356.97,939.2v2.9M393.02,939.2v2.9M465.11,939.2v2.9M501.15,939.2v2.9M537.2,939.2v2.9M609.29,939.2v2.9M645.33,939.2v2.9M681.38,939.2v2.9M753.47,939.2v2.9M789.51,939.2v2.9M825.56,939.2v2.9M140.7,936.13h-2.9M140.7,923.82h-2.9M140.7,899.22h-2.9M140.7,886.91h-2.9M140.7,874.61h-2.9M140.7,862.3h-2.9M140.7,837.7h-2.9M140.7,825.39h-2.9M140.7,813.09h-2.9M140.7,800.78h-2.9M140.7,776.18h-2.9M140.7,763.87h-2.9M140.7,751.57h-2.9M140.7,739.26h-2.9M140.7,714.66h-2.9M140.7,702.35h-2.9M140.7,690.05h-2.9M140.7,677.74h-2.9M140.7,653.14h-2.9M140.7,640.83h-2.9M140.7,628.53h-2.9M140.7,616.22h-2.9M140.7,591.62h-2.9M140.7,579.31h-2.9M140.7,567.01h-2.9M140.7,554.7h-2.9M140.7,530.1h-2.9" stroke="#000" stroke-width="0.7" fill="none"/>
<rect x="140.7" y="523.55" width="720.9" height="415.65" fill="none" stroke="#000" stroke-width="0.9"/>
<g font-family='"DejaVu Sans","Liberation Sans",sans-serif' font-size="10.75" fill="#000">
<text x="140.7" y="955.4" text-anchor="middle">0.00</text>
<text x="284.88" y="955.4" text-anchor="middle">0.02</text>
<text x="429.06" y="955.4" text-anchor="middle">0.04</text>
<text x="573.24" y="955.4" text-anchor="middle">0.06</text>
<text x="717.42" y="955.4" text-anchor="middle">0.08</text>
<text x="861.6" y="955.4" text-anchor="middle">0.10</text>
<text x="132.7" y="915.52" text-anchor="end">0.4</text>
<text x="132.7" y="854" text-anchor="end">0.5</text>
<text x="132.7" y="792.48" text-anchor="end">0.6</text>
<text x="132.7" y="730.96" text-anchor="end">0.7</text>
<text x="132.7" y="669.44" text-anchor="end">0.8</text>
<text x="132.7" y="607.92" text-anchor="end">0.9</text>
<text x="132.7" y="546.4" text-anchor="end">1.0</text>
</g>
<text x="501.15" y="980.5" text-anchor="middle" font-family='"DejaVu Sans","Liberation Sans",sans-serif' font-size="23.3" font-style="italic">r</text>
<text transform="translate(105.1,735.38) rotate(-90)" text-anchor="middle" font-family='"DejaVu Sans","Liberation Sans",sans-serif' font-size="22.6">Сплошность</text>
<rect x="706.6" y="777.5" width="146" height="152.6" rx="3" ry="3" fill="#fff" fill-opacity="0.8" stroke="#ccc" stroke-opacity="0.8" stroke-width="1.1"/>
<g font-family='"DejaVu Sans","Liberation Sans",sans-serif' font-size="17" fill="#000">
<use href="#sp" x="730.4" y="791.8"/>
<text x="759.6" y="797.2">t = 922.9</text>
<use href="#sb" x="730.4" y="816.37"/>
<text x="759.6" y="821.77">t = 1923</text>
<use href="#so" x="730.4" y="840.94"/>
<text x="759.6" y="846.34">t = 3923</text>
<use href="#sg" x="730.4" y="865.51"/>
<text x="759.6" y="870.91">t = 9923</text>
<use href="#sm" x="730.4" y="890.08"/>
<text x="759.6" y="895.48">t = 19923</text>
<use href="#sr" x="730.4" y="914.65"/>
<text x="759.6" y="920.05">t = 30000</text>
</g>
<text transform="translate(38.9,997.8) scale(0.81,1)" font-family='"Liberation Serif","DejaVu Serif",serif' font-style="italic" font-size="42" stroke="#fff" stroke-width="0.1">b</text>
<clipPath id="c2"><rect x="130.6" y="1015.1" width="720.46" height="415.2"/></clipPath>
<g clip-path="url(#c2)">
<path d="M166.62,1015.1V1430.3M202.65,1015.1V1430.3M238.67,1015.1V1430.3M310.71,1015.1V1430.3M346.74,1015.1V1430.3M382.76,1015.1V1430.3M454.81,1015.1V1430.3M490.83,1015.1V1430.3M526.85,1015.1V1430.3M598.9,1015.1V1430.3M634.92,1015.1V1430.3M670.94,1015.1V1430.3M742.99,1015.1V1430.3M779.01,1015.1V1430.3M815.04,1015.1V1430.3" fill="none" stroke="#000" stroke-width="1.0" stroke-dasharray="1 1.42" stroke-opacity="0.45"/>
<path d="M130.6,1405.88H851.06M130.6,1390.37H851.06M130.6,1374.85H851.06M130.6,1359.34H851.06M130.6,1328.3H851.06M130.6,1312.79H851.06M130.6,1297.27H851.06M130.6,1281.76H851.06M130.6,1250.72H851.06M130.6,1235.21H851.06M130.6,1219.69H851.06M130.6,1204.18H851.06M130.6,1173.14H851.06M130.6,1157.63H851.06M130.6,1142.11H851.06M130.6,1126.6H851.06M130.6,1095.56H851.06M130.6,1080.05H851.06M130.6,1064.53H851.06M130.6,1049.02H851.06M130.6,1017.98H851.06" fill="none" stroke="#000" stroke-width="1.0" stroke-dasharray="1 1.42" stroke-opacity="0.45"/>
<path d="M130.6,1015.1V1430.3M274.69,1015.1V1430.3M418.78,1015.1V1430.3M562.88,1015.1V1430.3M706.97,1015.1V1430.3M851.06,1015.1V1430.3" fill="none" stroke="#000" stroke-width="1.0" stroke-dasharray="1 1.42"/>
<path d="M130.6,1421.4H851.06M130.6,1343.82H851.06M130.6,1266.24H851.06M130.6,1188.66H851.06M130.6,1111.08H851.06M130.6,1033.5H851.06" fill="none" stroke="#000" stroke-width="1.0" stroke-dasharray="1 1.42"/>
<polyline points="130.9,1343.8 130.6,1343 131,1342.2 130.4,1341.4 130.9,1340.6 130.4,1339.8 131.3,1339 131.3,1338.2 130.6,1337.4 131.3,1336.6 131.4,1335.8 130.6,1335 131.2,1334.2 131.1,1333.4 131.3,1332.6 131.7,1331.8 131.5,1331 131.1,1330.2 131.5,1329.4 131.5,1328.6 131,1327.8 131.2,1327 131.5,1326.2 131.3,1325.4 131.4,1324.6 131.9,1323.8 132.3,1323.1 131.8,1322.2 132,1321.4 132.2,1320.6 132.2,1319.8 132.2,1319 131.6,1318.2 132.5,1317.4 131.9,1316.6 132,1315.8 132.3,1315 132.5,1314.2 132.7,1313.4 132.3,1312.6 133,1311.9 132.7,1311 133,1310.3 132.7,1309.4 132.4,1308.6 132.4,1307.8 133.1,1307 132.9,1306.2 133,1305.4 132.9,1304.6 132.9,1303.8 133.2,1303 133.1,1302.2 133.8,1301.5 133.1,1300.6 134,1299.9 134,1299.1 133.6,1298.2 134,1297.5 133.9,1296.7 133.9,1295.9 134.3,1295.1 134.4,1294.3 133.9,1293.4 134.7,1292.7 133.9,1291.8 134,1291 134.6,1290.3 134.5,1289.5 134.8,1288.7 134.9,1287.9 135.1,1287.1 135.6,1286.4 135.8,1285.6 135.3,1284.7 135.4,1283.9 135.9,1283.2 135.5,1282.3 135.9,1281.6 136.3,1280.8 135.7,1279.9 136.5,1279.2 136.6,1278.4 136.4,1277.6 136.3,1276.8 136.7,1276 136.6,1275.2 137.2,1274.5 137,1273.6 136.9,1272.8 137.4,1272.1 137.3,1271.3 137,1270.4 137.3,1269.6 137.5,1268.9 138.1,1268.1 137.6,1267.3 137.8,1266.5 138.4,1265.8 138,1264.9 138.5,1264.1 137.9,1263.2 138.3,1262.5 138.2,1261.7 139,1261 138.8,1260.1 138.6,1259.3 138.6,1258.5 139,1257.7 138.8,1256.9 139.3,1256.2 139.7,1255.4 139.4,1254.6 139.4,1253.7 139.7,1253 139.6,1252.2 140.4,1251.5 139.8,1250.6 140.6,1249.9 140.3,1249 140.8,1248.3 141,1247.5 140.5,1246.6 141.3,1245.9 141.6,1245.2 141.4,1244.3 141.6,1243.6 141.5,1242.7 141.5,1241.9 142.2,1241.2 142.5,1240.5 142,1239.6 142.1,1238.7 142.5,1238 142.9,1237.3 142.8,1236.4 143.6,1235.8 143.6,1235 143.8,1234.2 143.7,1233.4 144,1232.6 144.4,1231.9 143.6,1230.9 144.3,1230.2 144.1,1229.3 144.9,1228.7 144.5,1227.8 145.1,1227.1 144.9,1226.2 145.4,1225.5 145.6,1224.7 146,1224 146.1,1223.2 145.9,1222.3 146.3,1221.6 146,1220.7 146.1,1219.9 146.9,1219.3 147.3,1218.6 147.3,1217.8 147.3,1216.9 147.6,1216.2 147.9,1215.4 148,1214.6 148,1213.8 148.7,1213.1 148.4,1212.2 149.1,1211.6 149.3,1210.8 149.5,1210 149.8,1209.3 150.1,1208.6 150.4,1207.8 150.2,1206.9 150.3,1206.1 150.9,1205.5 151.4,1204.8 151.4,1203.9 151.1,1203 151.4,1202.2 152.1,1201.7 152.7,1201 153.2,1200.4 153,1199.4 153.5,1198.8 153.8,1198 153.8,1197.1 154.1,1196.4 154.9,1195.9 155.3,1195.2 156,1194.6 155.8,1193.6 156.7,1193.2 156.6,1192.3 157.3,1191.7 157.8,1191.1 157.8,1190.1 158.9,1189.8 159.3,1189.2 159.7,1188.5 159.3,1187.3 160.3,1187 160.8,1186.3 161.4,1185.8 161.3,1184.7 161.7,1184 162.7,1183.8 162.7,1182.8 163.1,1182.1 163.6,1181.4 164.5,1181.1 164.9,1180.4 165.6,1179.9 166.1,1179.3 166,1178.2 167.2,1178.1 167.6,1177.5 168.1,1176.9 168.5,1176.1 168.6,1175.2 169,1174.5 170,1174.2 170,1173.3 170.5,1172.6 171.2,1172.1 171.6,1171.4 172,1170.7 172.4,1170 172.7,1169.3 173.4,1168.8 173.5,1167.9 173.8,1167.1 174.8,1166.8 175.2,1166.1 175.5,1165.3 175.4,1164.4 175.7,1163.6 176.9,1163.4 177.3,1162.7 177.1,1161.7 177.8,1161.1 177.7,1160.1 178.4,1159.6 179.1,1159.1 179.1,1158.2 179.9,1157.7 180.4,1157 180,1156 180.9,1155.5 181,1154.6 181.1,1153.8 181.6,1153.2 182.1,1152.5 182.8,1151.9 183,1151.2 182.6,1150.1 183,1149.4 184.2,1149.1 184.1,1148.2 184.5,1147.4 184.6,1146.6 185.3,1146.1 185.4,1145.2 185.8,1144.5 185.8,1143.6 186.6,1143.1 186.4,1142.1 186.7,1141.4 187.4,1140.8 188,1140.2 187.8,1139.3 188.1,1138.5 188.3,1137.7 189.1,1137.2 189.6,1136.6 189.3,1135.6 190,1135 190.4,1134.3 190.3,1133.4 191,1132.8 191.1,1132 191.3,1131.2 192.4,1130.8 191.8,1129.7 192.4,1129 192.9,1128.4 193,1127.6 192.9,1126.7 194,1126.2 193.7,1125.3 194.1,1124.6 194.8,1124 195.2,1123.2 195.4,1122.4 195.1,1121.5 195.7,1120.9 202.6,1105.7 209.9,1093.6 217.1,1083.4 224.3,1075.4 231.5,1068.9 238.7,1064.3 245.9,1060.4 253.1,1056.8 260.3,1054.1 267.5,1051.4 274.7,1049.2 281.9,1047.7 289.1,1046.4 296.3,1045.3 303.5,1044.3 310.7,1043.4 317.9,1042.7 325.1,1042 332.3,1041.4 339.5,1040.8 346.7,1040.1 353.9,1039.7 361.1,1039.4 368.4,1039.1 375.6,1038.9 382.8,1038.6 390,1038.4 397.2,1038.1 404.4,1037.9 411.6,1037.7 418.8,1037.5 426,1037.4 433.2,1037.2 440.4,1037.1 447.6,1037 454.8,1036.9 462,1036.8 469.2,1036.7 476.4,1036.6 483.6,1036.5 490.8,1036.4 498,1036.3 505.2,1036.2 512.4,1036.1 519.6,1036 526.9,1036 534.1,1035.9 541.3,1035.8 548.5,1035.8 555.7,1035.7 562.9,1035.6 570.1,1035.6 577.3,1035.5 584.5,1035.5 591.7,1035.4 598.9,1035.3 606.1,1035.3 613.3,1035.2 620.5,1035.2 627.7,1035.1 634.9,1035.1 642.1,1035 649.3,1034.9 656.5,1034.9 663.7,1034.8 670.9,1034.8 678.1,1034.7 685.4,1034.7 692.6,1034.6 699.8,1034.6 707,1034.5 714.2,1034.5 721.4,1034.4 728.6,1034.4 735.8,1034.3 743,1034.3 750.2,1034.2 757.4,1034.2 764.6,1034.1 771.8,1034.1 779,1034 786.2,1034 793.4,1033.9 800.6,1033.9 807.8,1033.9 815,1033.8 822.2,1033.8 829.4,1033.7 836.7,1033.7 843.9,1033.7" fill="none" stroke="none" marker-start="url(#kp)" marker-mid="url(#kp)" marker-end="url(#kp)"/>
<polyline points="130.9,1378 130.4,1377.1 131.2,1376.4 130.4,1375.5 131.1,1374.8 130.7,1373.9 130.8,1373.1 130.8,1372.3 131.6,1371.6 130.9,1370.7 131.8,1370 131.1,1369.1 131.3,1368.4 131.3,1367.5 132.1,1366.8 131.3,1365.9 132.2,1365.2 131.7,1364.4 132.4,1363.6 132.3,1362.8 131.9,1362 132.2,1361.2 132,1360.3 132.3,1359.6 132,1358.7 132.8,1358 132.8,1357.2 132.5,1356.4 132.4,1355.5 133.4,1354.8 132.6,1354 132.9,1353.2 132.7,1352.4 133.2,1351.6 133.3,1350.8 133.5,1350 133.4,1349.2 133.4,1348.4 134,1347.7 133.6,1346.8 133.8,1346 134.1,1345.2 133.9,1344.4 134.5,1343.7 134,1342.8 134.3,1342 134.5,1341.2 134.5,1340.4 135.2,1339.7 134.8,1338.9 135,1338.1 135.2,1337.3 135.6,1336.6 135.2,1335.7 135.9,1335 136.1,1334.2 135.6,1333.3 135.6,1332.5 136.4,1331.8 136,1330.9 136,1330.1 136,1329.3 136.7,1328.6 137.1,1327.8 137.1,1327 137,1326.2 136.9,1325.4 137.6,1324.7 137.3,1323.8 137.7,1323.1 137.6,1322.2 137.7,1321.4 137.8,1320.6 137.3,1319.8 137.6,1319 137.5,1318.2 138.4,1317.5 138.6,1316.7 138.3,1315.9 138,1315 138,1314.2 138.5,1313.4 138.5,1312.6 138.4,1311.8 138.4,1311 139.1,1310.3 139.3,1309.5 138.7,1308.6 139,1307.9 139.1,1307.1 139.4,1306.3 139.6,1305.5 139.5,1304.7 140.1,1303.9 139.7,1303.1 139.7,1302.3 140.3,1301.5 140.4,1300.7 140.6,1300 140,1299.1 140.1,1298.3 140.5,1297.5 141.1,1296.8 140.8,1296 141,1295.2 140.8,1294.3 141.6,1293.6 140.9,1292.7 141.4,1292 141.6,1291.2 141.9,1290.4 142,1289.6 141.7,1288.8 141.7,1288 142.5,1287.3 142.2,1286.4 142.1,1285.6 142.1,1284.8 142.9,1284.1 143,1283.3 142.9,1282.5 142.8,1281.6 143.2,1280.9 143.7,1280.2 143.4,1279.3 143.7,1278.5 143.9,1277.8 144,1276.9 143.8,1276.1 143.6,1275.3 144.3,1274.6 144.5,1273.8 144.8,1273 144.1,1272.1 144.2,1271.3 144.9,1270.6 145.2,1269.8 144.6,1268.9 145.3,1268.2 145.1,1267.4 146,1266.7 145.5,1265.8 145.4,1265 146.3,1264.3 146,1263.5 146.3,1262.7 146.2,1261.9 146.6,1261.1 146.6,1260.3 147,1259.5 147.5,1258.9 147.4,1258 148,1257.3 148.4,1256.6 148.4,1255.8 148.1,1254.8 149.2,1254.3 148.7,1253.4 149,1252.6 149.4,1251.9 149.8,1251.2 149.7,1250.3 150,1249.6 150.4,1248.9 150.5,1248 150.6,1247.2 150.9,1246.5 151.1,1245.7 151.3,1244.9 151.8,1244.2 152,1243.4 152.1,1242.6 152.6,1242 153,1241.2 153.1,1240.4 153,1239.6 153.8,1239 153.3,1238 154.2,1237.4 154.1,1236.6 154.4,1235.8 155.1,1235.2 155.2,1234.4 155.8,1233.8 156,1233 155.6,1232 156.3,1231.4 156.8,1230.7 156.5,1229.7 157.3,1229.2 158,1228.6 157.7,1227.6 157.9,1226.8 158.4,1226.1 158.8,1225.4 159.1,1224.7 159.5,1224 160.3,1223.5 160.3,1222.6 160.8,1221.9 160.7,1221 161,1220.3 162.2,1220 162,1219 162.9,1218.5 162.7,1217.5 163.4,1217 163.8,1216.3 163.7,1215.3 164,1214.6 164.8,1214.1 164.9,1213.2 165.4,1212.6 165.7,1211.9 166.3,1211.2 166.8,1210.6 167.1,1209.8 167.5,1209.2 168.1,1208.6 168.6,1208 168.5,1207 169.7,1206.8 169.7,1205.8 170.5,1205.4 170.2,1204.2 170.7,1203.6 171.2,1202.9 172.3,1202.7 172.3,1201.8 173.1,1201.4 173.5,1200.6 173.4,1199.6 174.1,1199.1 174.5,1198.4 175.1,1197.8 175.8,1197.3 175.7,1196.3 176.9,1196.2 177,1195.3 177.5,1194.6 178.3,1194.2 178.5,1193.4 179.4,1193.1 179.8,1192.3 180.4,1191.8 180.8,1191.1 181.4,1190.5 182.4,1190.4 182.8,1189.6 183.2,1189 184,1188.6 184.7,1188.2 184.7,1187.1 185.9,1187.1 185.7,1185.8 186.7,1185.7 187,1184.8 187.5,1184.2 188.3,1183.8 188.9,1183.3 189.3,1182.6 190,1182.1 190.7,1181.7 190.6,1180.6 191.2,1180 192,1179.6 192.4,1178.9 192.8,1178.2 193.5,1177.7 194.1,1177.2 194.8,1176.7 195.3,1176.1 195.7,1175.4 202.6,1166.2 209.9,1154.7 217.1,1141.6 224.3,1128.7 231.5,1116.6 238.7,1106.2 245.9,1096.7 253.1,1088.7 260.3,1082 267.5,1076.6 274.7,1071.7 281.9,1067.9 289.1,1064.5 296.3,1061.5 303.5,1058.8 310.7,1056.5 317.9,1054.7 325.1,1053.2 332.3,1051.7 339.5,1049.9 346.7,1047.9 353.9,1046.7 361.1,1045.8 368.4,1045 375.6,1044.4 382.8,1043.8 390,1043.3 397.2,1042.8 404.4,1042.3 411.6,1041.9 418.8,1041.5 426,1041.1 433.2,1040.7 440.4,1040.4 447.6,1040.1 454.8,1039.8 462,1039.5 469.2,1039.3 476.4,1039 483.6,1038.8 490.8,1038.6 498,1038.4 505.2,1038.3 512.4,1038.2 519.6,1038 526.9,1037.9 534.1,1037.8 541.3,1037.6 548.5,1037.5 555.7,1037.4 562.9,1037.2 570.1,1037.1 577.3,1036.9 584.5,1036.7 591.7,1036.5 598.9,1036.4 606.1,1036.2 613.3,1036.1 620.5,1036 627.7,1035.9 634.9,1035.8 642.1,1035.7 649.3,1035.6 656.5,1035.6 663.7,1035.5 670.9,1035.4 678.1,1035.3 685.4,1035.2 692.6,1035.1 699.8,1035.1 707,1035 714.2,1034.9 721.4,1034.8 728.6,1034.7 735.8,1034.7 743,1034.6 750.2,1034.5 757.4,1034.4 764.6,1034.4 771.8,1034.3 779,1034.3 786.2,1034.2 793.4,1034.1 800.6,1034.1 807.8,1034 815,1034 822.2,1033.9 829.4,1033.9 836.7,1033.8 843.9,1033.8" fill="none" stroke="none" marker-start="url(#kb)" marker-mid="url(#kb)" marker-end="url(#kb)"/>
<polyline points="130.8,1411.7 131.5,1411.1 131.6,1410.3 131.2,1409.4 132.2,1408.8 131.6,1407.8 132.2,1407.1 132.4,1406.3 132.7,1405.6 132.6,1404.8 133,1404 132.3,1403.1 132.3,1402.3 132.6,1401.5 133.1,1400.8 133,1400 132.8,1399.1 133,1398.3 133.5,1397.6 133.4,1396.8 133.9,1396 133.7,1395.2 134.2,1394.4 134.1,1393.6 134,1392.8 133.9,1392 133.9,1391.2 134.1,1390.4 134.2,1389.6 134.3,1388.8 134.3,1388 134.7,1387.2 134.4,1386.4 135.2,1385.7 135,1384.9 134.7,1384 135,1383.3 135.1,1382.4 135.1,1381.6 135.5,1380.9 135.3,1380.1 135.3,1379.3 136,1378.5 135.8,1377.7 136.2,1376.9 136,1376.1 136.2,1375.3 136.1,1374.5 136.3,1373.7 136.4,1372.9 136.4,1372.1 136.9,1371.4 136.4,1370.5 136.5,1369.7 136.7,1368.9 137.2,1368.2 137.3,1367.4 137.1,1366.6 137,1365.7 137.4,1365 137.6,1364.2 137.1,1363.3 137.6,1362.6 137.8,1361.8 137.5,1361 137.4,1360.1 137.9,1359.4 137.6,1358.6 137.8,1357.8 138.1,1357 138.6,1356.2 137.9,1355.4 137.9,1354.6 138.5,1353.8 138.9,1353.1 138.1,1352.2 138.8,1351.4 138.3,1350.6 138.9,1349.8 138.6,1349 139.2,1348.3 139,1347.4 139.4,1346.7 139.1,1345.8 139,1345 139.2,1344.2 139.4,1343.4 139.4,1342.6 139.6,1341.8 140,1341.1 140,1340.3 140.5,1339.5 140.3,1338.7 140.4,1337.9 140.7,1337.1 140.9,1336.4 140.8,1335.5 140.3,1334.7 140.9,1333.9 140.6,1333.1 141.2,1332.4 140.8,1331.5 141.4,1330.8 141.1,1329.9 141.9,1329.2 141.3,1328.3 142,1327.6 142.1,1326.8 141.8,1326 142.2,1325.2 142.1,1324.4 142.1,1323.6 142.2,1322.8 142.1,1322 142.9,1321.3 142.4,1320.4 142.6,1319.6 142.6,1318.8 143.5,1318.1 143.3,1317.3 143.4,1316.5 143.6,1315.7 144,1315 143.9,1314.1 143.9,1313.3 143.9,1312.5 144.2,1311.7 144.8,1311 144.5,1310.2 144.6,1309.4 145.1,1308.7 144.4,1307.7 144.6,1306.9 145.5,1306.3 145.8,1305.5 145,1304.6 145.2,1303.8 145.3,1303 146,1302.3 145.7,1301.4 146.3,1300.7 146.6,1300 146.1,1299.1 147.1,1298.4 146.7,1297.5 147.1,1296.8 147.1,1296 147.2,1295.2 147.4,1294.4 147.2,1293.6 147.8,1292.9 147.8,1292 148,1291.3 148,1290.4 148.3,1289.7 148.9,1289 149.3,1288.3 148.7,1287.3 149.5,1286.7 149.5,1285.8 149.1,1284.9 149.2,1284.1 150.2,1283.6 149.8,1282.6 149.8,1281.8 150.6,1281.2 150.8,1280.4 151.2,1279.7 151,1278.8 151,1278 151.2,1277.2 151.3,1276.4 151.9,1275.7 152.4,1275 151.8,1274 152.3,1273.3 152.5,1272.6 152.4,1271.7 153.1,1271.1 153.7,1270.4 153.2,1269.4 153.9,1268.8 154.3,1268.1 153.9,1267.1 154.7,1266.5 154.8,1265.7 154.9,1264.9 154.7,1264 155,1263.3 155,1262.5 156,1261.9 156.2,1261.1 155.7,1260.1 156.4,1259.5 156.3,1258.6 157,1258 157.1,1257.2 157.7,1256.6 157.7,1255.7 157.4,1254.8 157.9,1254.1 158.3,1253.4 158.9,1252.8 158.7,1251.8 158.8,1251 159.1,1250.3 159.4,1249.5 159.6,1248.7 160.1,1248.1 160.3,1247.3 160.9,1246.7 161.5,1246.1 161.9,1245.4 161.5,1244.3 162.2,1243.7 162.6,1243.1 162.5,1242.1 163.2,1241.6 163.2,1240.7 163.7,1240 164.1,1239.3 164.9,1238.8 164.7,1237.8 165.4,1237.3 165.8,1236.6 166,1235.8 166.9,1235.4 166.8,1234.4 167.2,1233.7 167.9,1233.2 168.1,1232.4 168.7,1231.8 168.6,1230.8 169.1,1230.1 170,1229.8 170.1,1228.9 171,1228.5 170.9,1227.5 171.3,1226.8 172.3,1226.5 172.3,1225.6 172.6,1224.8 173.1,1224.2 174,1223.8 174.1,1222.9 174.8,1222.4 175.5,1222 175.9,1221.2 176.5,1220.7 177.1,1220.2 177.1,1219.1 178.1,1218.9 178.4,1218.1 178.6,1217.2 179.1,1216.6 179.8,1216.1 180.2,1215.4 181.2,1215.3 181.6,1214.6 181.8,1213.6 183,1213.7 183.4,1212.9 183.8,1212.2 184.2,1211.5 185,1211.2 185.9,1210.9 186.3,1210.2 186.8,1209.5 187.5,1209.1 188,1208.5 188.7,1208 189,1207.2 189.6,1206.6 190.1,1206 191.2,1206.1 191.3,1205 192.1,1204.7 193,1204.4 193.5,1203.8 194.4,1203.7 194.6,1202.6 195.2,1202.1 202.6,1196.1 209.9,1190.5 217.1,1184.9 224.3,1177.9 231.5,1169.9 238.7,1161 245.9,1150.5 253.1,1140.9 260.3,1130.4 267.5,1120.9 274.7,1112.9 281.9,1105.2 289.1,1098.4 296.3,1092.4 303.5,1087 310.7,1082 317.9,1077.9 325.1,1073.7 332.3,1070.1 339.5,1067.4 346.7,1064.5 353.9,1062.4 361.1,1060.5 368.4,1058.9 375.6,1057.3 382.8,1055.8 390,1054.4 397.2,1053 404.4,1051.7 411.6,1050.6 418.8,1049.6 426,1048.7 433.2,1047.8 440.4,1047.1 447.6,1046.4 454.8,1045.8 462,1045.3 469.2,1044.8 476.4,1044.3 483.6,1043.9 490.8,1043.5 498,1043.2 505.2,1042.9 512.4,1042.6 519.6,1042.4 526.9,1042.1 534.1,1041.8 541.3,1041.5 548.5,1041.2 555.7,1040.9 562.9,1040.6 570.1,1040.4 577.3,1040.2 584.5,1040 591.7,1039.8 598.9,1039.6 606.1,1039.3 613.3,1039.1 620.5,1038.9 627.7,1038.8 634.9,1038.6 642.1,1038.5 649.3,1038.4 656.5,1038.3 663.7,1038.2 670.9,1038.1 678.1,1038.1 685.4,1038 692.6,1037.9 699.8,1037.8 707,1037.8 714.2,1037.7 721.4,1037.6 728.6,1037.5 735.8,1037.4 743,1037.4 750.2,1037.3 757.4,1037.2 764.6,1037.1 771.8,1037 779,1036.9 786.2,1036.8 793.4,1036.7 800.6,1036.6 807.8,1036.5 815,1036.4 822.2,1036.2 829.4,1036.1 836.7,1036 843.9,1035.8" fill="none" stroke="none" marker-start="url(#ko)" marker-mid="url(#ko)" marker-end="url(#ko)"/>
<polyline points="130.6,1411.7 131.2,1411 131.2,1410.2 131.5,1409.4 131.9,1408.7 131.7,1407.8 132.2,1407.1 131.7,1406.2 132.4,1405.5 132.9,1404.8 133,1404 132.8,1403.2 133.3,1402.4 132.6,1401.5 132.8,1400.7 133.1,1400 133.2,1399.2 133.6,1398.4 133.3,1397.6 133,1396.7 133.8,1396 133.4,1395.2 134.2,1394.4 133.6,1393.6 133.8,1392.8 133.7,1392 134,1391.2 134.4,1390.4 134.1,1389.6 134,1388.8 134.7,1388.1 134.9,1387.3 134.4,1386.4 134.8,1385.6 134.6,1384.8 134.6,1384 135.1,1383.3 135.1,1382.5 135.8,1381.7 135,1380.8 135.7,1380.1 135.9,1379.3 135.7,1378.5 135.9,1377.7 135.7,1376.9 135.8,1376.1 135.7,1375.3 136.7,1374.6 135.9,1373.7 136.1,1372.9 136.7,1372.2 136.6,1371.3 136.7,1370.5 136.6,1369.7 136.5,1368.9 137.2,1368.2 136.6,1367.3 136.9,1366.5 137.4,1365.8 137,1364.9 137.8,1364.2 137.1,1363.3 137.5,1362.6 137.6,1361.8 137.6,1361 138,1360.2 137.3,1359.3 137.9,1358.6 138.3,1357.8 137.6,1356.9 138.2,1356.2 138.2,1355.4 138.2,1354.6 138.5,1353.8 138.6,1353 138.8,1352.2 139.1,1351.5 138.9,1350.6 139.4,1349.9 139.1,1349.1 138.8,1348.2 138.8,1347.4 138.8,1346.6 139.1,1345.8 139.1,1345 139.7,1344.3 139.8,1343.5 139.9,1342.7 139.7,1341.9 139.9,1341.1 139.8,1340.3 140.6,1339.5 139.8,1338.6 140.2,1337.9 140.5,1337.1 140.3,1336.3 141,1335.6 140.8,1334.7 140.8,1333.9 140.6,1333.1 140.9,1332.3 141.3,1331.6 141.1,1330.7 141,1329.9 141.7,1329.2 141.5,1328.4 142.1,1327.6 142.1,1326.8 142.2,1326 142.5,1325.3 142.6,1324.5 142.2,1323.6 142.5,1322.8 142.3,1322 142.4,1321.2 142.5,1320.4 142.5,1319.6 142.8,1318.8 142.9,1318 143.5,1317.3 143.2,1316.4 143.1,1315.6 143.6,1314.9 143.5,1314.1 144.1,1313.4 143.8,1312.5 144.2,1311.8 144,1310.9 144.4,1310.2 145,1309.4 144.5,1308.6 144.9,1307.8 145,1307 144.8,1306.1 144.9,1305.3 145.8,1304.7 145.5,1303.8 146,1303.1 145.9,1302.3 146.4,1301.6 146,1300.7 146.4,1299.9 146.6,1299.2 147,1298.4 146.4,1297.5 146.9,1296.8 147.2,1296 147.5,1295.2 147.2,1294.4 147.7,1293.7 148,1292.9 148.2,1292.1 147.9,1291.2 148.3,1290.5 148.3,1289.7 148.6,1288.9 148.7,1288.1 149.4,1287.5 148.7,1286.5 149.8,1285.9 149.1,1284.9 149.3,1284.2 149.6,1283.4 149.8,1282.6 150.6,1282 150.8,1281.2 151,1280.5 150.7,1279.5 150.5,1278.7 151.3,1278 151.8,1277.3 151.2,1276.4 152.1,1275.8 151.5,1274.8 152.4,1274.2 152.4,1273.4 153,1272.7 153.2,1271.9 152.6,1270.9 153.2,1270.3 153.2,1269.4 153.6,1268.7 153.5,1267.8 154,1267.1 154.2,1266.4 154.1,1265.5 154.7,1264.9 155.4,1264.2 154.8,1263.2 155.9,1262.7 155.6,1261.8 155.6,1260.9 156.6,1260.4 156.3,1259.5 156.5,1258.7 156.7,1257.9 157.4,1257.3 156.9,1256.3 157.2,1255.6 157.5,1254.8 157.6,1254 158.6,1253.5 158.5,1252.6 158.9,1251.9 159.4,1251.2 159.3,1250.4 159.4,1249.5 160,1248.9 160.2,1248.1 160.4,1247.3 160.6,1246.5 161,1245.9 161.7,1245.3 161.5,1244.3 162.6,1243.9 162.2,1242.9 162.6,1242.2 162.8,1241.4 163.4,1240.8 163.8,1240 164.4,1239.5 164.9,1238.9 164.7,1237.9 165.6,1237.4 165.6,1236.5 166,1235.8 166.2,1235 167.2,1234.7 167.2,1233.7 167.9,1233.2 167.7,1232.1 168.7,1231.8 168.7,1230.9 169.3,1230.3 169.9,1229.7 169.9,1228.8 170.7,1228.3 171.4,1227.8 171.3,1226.8 172,1226.3 172.2,1225.5 172.6,1224.8 173.4,1224.3 173.8,1223.7 174.4,1223.1 175.1,1222.6 175.4,1221.9 175.6,1221 176.3,1220.5 176.9,1220 177.5,1219.5 177.9,1218.8 178.3,1218 178.6,1217.2 179.7,1217.1 179.8,1216.1 180.4,1215.6 181.3,1215.4 181.4,1214.3 182.5,1214.3 182.5,1213.2 183,1212.5 183.9,1212.3 184.7,1211.9 185,1211.1 185.9,1210.9 186.2,1210 187,1209.8 187.1,1208.7 187.9,1208.3 188.4,1207.7 189.4,1207.6 189.8,1206.9 190.5,1206.5 190.9,1205.7 191.8,1205.5 192.6,1205.2 192.6,1204 193.4,1203.7 194.4,1203.6 195,1203.2 195.7,1202.7 202.6,1196.1 209.9,1190.5 217.1,1184.9 224.3,1177.9 231.5,1169.9 238.7,1161 245.9,1150.5 253.1,1140.9 260.3,1130.4 267.5,1120.9 274.7,1112.9 281.9,1105.2 289.1,1098.4 296.3,1092.4 303.5,1087 310.7,1082 317.9,1077.9 325.1,1073.7 332.3,1070.1 339.5,1067.4 346.7,1064.5 353.9,1062.4 361.1,1060.5 368.4,1058.9 375.6,1057.3 382.8,1055.8 390,1054.4 397.2,1053 404.4,1051.7 411.6,1050.6 418.8,1049.6 426,1048.7 433.2,1047.8 440.4,1047.1 447.6,1046.4 454.8,1045.8 462,1045.3 469.2,1044.8 476.4,1044.3 483.6,1043.9 490.8,1043.5 498,1043.2 505.2,1042.9 512.4,1042.6 519.6,1042.4 526.9,1042.1 534.1,1041.8 541.3,1041.5 548.5,1041.2 555.7,1040.9 562.9,1040.6 570.1,1040.4 577.3,1040.2 584.5,1040 591.7,1039.8 598.9,1039.6 606.1,1039.3 613.3,1039.1 620.5,1038.9 627.7,1038.8 634.9,1038.6 642.1,1038.5 649.3,1038.4 656.5,1038.3 663.7,1038.2 670.9,1038.1 678.1,1038.1 685.4,1038 692.6,1037.9 699.8,1037.8 707,1037.8 714.2,1037.7 721.4,1037.6 728.6,1037.5 735.8,1037.4 743,1037.4 750.2,1037.3 757.4,1037.2 764.6,1037.1 771.8,1037 779,1036.9 786.2,1036.8 793.4,1036.7 800.6,1036.6 807.8,1036.5 815,1036.4 822.2,1036.2 829.4,1036.1 836.7,1036 843.9,1035.8" fill="none" stroke="none" marker-start="url(#kg)" marker-mid="url(#kg)" marker-end="url(#kg)"/>
<polyline points="130.7,1411.7 131.2,1411 131,1410.1 131.5,1409.4 131.8,1408.7 131.6,1407.8 132,1407.1 132,1406.3 131.9,1405.5 132,1404.7 132.8,1404 132.2,1403.1 133.3,1402.4 133.3,1401.6 133.5,1400.8 133.4,1400 132.7,1399.1 132.9,1398.3 133.2,1397.6 133.2,1396.7 133.2,1395.9 134.1,1395.2 134.2,1394.4 134.1,1393.6 133.7,1392.8 134.4,1392.1 134.5,1391.3 134.1,1390.4 134,1389.6 134.1,1388.8 134.5,1388 135,1387.3 134.4,1386.4 134.8,1385.6 134.8,1384.8 135.5,1384.1 134.8,1383.2 135.4,1382.5 135.2,1381.7 135.6,1380.9 135.9,1380.1 136,1379.3 136.1,1378.5 135.7,1377.7 135.8,1376.9 135.7,1376.1 135.9,1375.3 135.9,1374.5 136.6,1373.8 136,1372.9 136.2,1372.1 136.9,1371.4 136.9,1370.6 137.2,1369.8 136.7,1368.9 136.5,1368.1 137.3,1367.4 136.9,1366.5 137.4,1365.8 136.8,1364.9 136.8,1364.1 137.5,1363.4 137.7,1362.6 137.6,1361.8 137.7,1361 137.8,1360.2 137.4,1359.3 137.5,1358.5 137.8,1357.8 138.1,1357 137.9,1356.2 137.9,1355.4 138.3,1354.6 138.3,1353.8 138.3,1353 139,1352.3 139.1,1351.5 138.3,1350.6 138.9,1349.8 138.7,1349 138.9,1348.2 138.7,1347.4 138.8,1346.6 138.9,1345.8 139.1,1345 139.7,1344.3 139.2,1343.4 140.1,1342.7 140.2,1341.9 139.7,1341.1 140.2,1340.3 140.6,1339.6 139.9,1338.6 140.4,1337.9 140.4,1337.1 140.4,1336.3 140.5,1335.5 140.4,1334.7 141.1,1334 140.7,1333.1 141.1,1332.3 141.7,1331.6 141.2,1330.7 141.3,1329.9 142,1329.2 141.8,1328.4 141.9,1327.6 141.6,1326.8 142.2,1326 142,1325.2 142.3,1324.4 142.3,1323.6 142.1,1322.8 143,1322.1 142.9,1321.3 143.3,1320.5 142.7,1319.6 142.8,1318.8 142.8,1318 143.1,1317.2 143.2,1316.5 143.2,1315.6 143.4,1314.9 143.6,1314.1 144.3,1313.4 144,1312.5 144.5,1311.8 143.9,1310.9 144.1,1310.1 145,1309.5 144.3,1308.5 144.5,1307.7 145,1307 145,1306.2 145,1305.4 145.6,1304.7 145.7,1303.9 145.5,1303 146,1302.3 146.1,1301.5 146.6,1300.8 146,1299.8 146.3,1299.1 146.8,1298.4 146.4,1297.5 147.4,1296.9 147.7,1296.1 147.2,1295.2 147.8,1294.5 147.4,1293.6 148.3,1293 147.7,1292 147.7,1291.2 147.9,1290.4 148.5,1289.7 148.2,1288.9 149.3,1288.3 149.1,1287.4 149.2,1286.6 149.5,1285.8 149.4,1285 150.1,1284.3 150.1,1283.5 150,1282.7 150,1281.9 150.1,1281 150.4,1280.3 150.7,1279.5 150.6,1278.7 151.6,1278.1 151.1,1277.2 151.6,1276.5 151.4,1275.6 152,1274.9 152.3,1274.2 152,1273.3 153.1,1272.7 152.5,1271.7 152.8,1271 153.5,1270.3 153.3,1269.5 154,1268.8 153.6,1267.9 153.9,1267.1 154.5,1266.5 154.9,1265.7 155.1,1265 154.8,1264 155.2,1263.3 155.3,1262.5 155.8,1261.8 155.6,1261 156.4,1260.4 156.5,1259.6 156.2,1258.6 156.6,1257.9 156.9,1257.1 157.7,1256.6 157.5,1255.6 157.9,1254.9 158.4,1254.3 158.1,1253.3 158.9,1252.8 158.6,1251.8 158.6,1250.9 159,1250.2 159.8,1249.7 159.8,1248.8 160.5,1248.3 160.6,1247.4 161,1246.7 161,1245.9 161.6,1245.2 162,1244.5 162,1243.7 162.5,1243 163.1,1242.4 163.5,1241.7 163.4,1240.8 163.5,1239.9 164.5,1239.5 164.5,1238.7 165.4,1238.2 165.6,1237.4 165.6,1236.5 166.4,1236 166.5,1235.2 167.1,1234.6 167.6,1234 167.8,1233.1 168.5,1232.6 168.4,1231.6 168.8,1231 169.5,1230.4 169.7,1229.6 170.4,1229.1 170.7,1228.3 171.3,1227.8 171.8,1227.1 172,1226.3 172.8,1225.9 173.1,1225.1 173.7,1224.5 173.4,1223.4 173.9,1222.7 174.9,1222.5 175.1,1221.7 176.1,1221.4 176.2,1220.4 177,1220 177.1,1219.1 177.9,1218.7 178.6,1218.3 179.1,1217.7 179.3,1216.8 179.9,1216.3 180.5,1215.7 180.9,1215 181.6,1214.5 182.5,1214.3 183,1213.7 183.2,1212.7 184,1212.4 184.8,1212.1 185,1211.1 185.9,1210.9 186.4,1210.3 187.1,1209.8 187.1,1208.7 188.3,1208.8 188.9,1208.3 189,1207.2 189.9,1207 190.2,1206.1 191.1,1205.9 191.8,1205.5 192.4,1205 193.1,1204.6 193.4,1203.7 193.9,1203.1 195,1203.1 195.2,1202 202.6,1196.1 209.9,1190.5 217.1,1184.9 224.3,1177.9 231.5,1169.9 238.7,1161 245.9,1150.5 253.1,1140.9 260.3,1130.4 267.5,1120.9 274.7,1112.9 281.9,1105.2 289.1,1098.4 296.3,1092.4 303.5,1087 310.7,1082 317.9,1077.9 325.1,1073.7 332.3,1070.1 339.5,1067.4 346.7,1064.5 353.9,1062.4 361.1,1060.5 368.4,1058.9 375.6,1057.3 382.8,1055.8 390,1054.4 397.2,1053 404.4,1051.7 411.6,1050.6 418.8,1049.6 426,1048.7 433.2,1047.8 440.4,1047.1 447.6,1046.4 454.8,1045.8 462,1045.3 469.2,1044.8 476.4,1044.3 483.6,1043.9 490.8,1043.5 498,1043.2 505.2,1042.9 512.4,1042.6 519.6,1042.4 526.9,1042.1 534.1,1041.8 541.3,1041.5 548.5,1041.2 555.7,1040.9 562.9,1040.6 570.1,1040.4 577.3,1040.2 584.5,1040 591.7,1039.8 598.9,1039.6 606.1,1039.3 613.3,1039.1 620.5,1038.9 627.7,1038.8 634.9,1038.6 642.1,1038.5 649.3,1038.4 656.5,1038.3 663.7,1038.2 670.9,1038.1 678.1,1038.1 685.4,1038 692.6,1037.9 699.8,1037.8 707,1037.8 714.2,1037.7 721.4,1037.6 728.6,1037.5 735.8,1037.4 743,1037.4 750.2,1037.3 757.4,1037.2 764.6,1037.1 771.8,1037 779,1036.9 786.2,1036.8 793.4,1036.7 800.6,1036.6 807.8,1036.5 815,1036.4 822.2,1036.2 829.4,1036.1 836.7,1036 843.9,1035.8" fill="none" stroke="none" marker-start="url(#kr)" marker-mid="url(#kr)" marker-end="url(#kr)"/>
</g>
<path d="M130.6,1430.3v4.3M274.69,1430.3v4.3M418.78,1430.3v4.3M562.88,1430.3v4.3M706.97,1430.3v4.3M851.06,1430.3v4.3M130.6,1421.4h-4.3M130.6,1343.82h-4.3M130.6,1266.24h-4.3M130.6,1188.66h-4.3M130.6,1111.08h-4.3M130.6,1033.5h-4.3" stroke="#000" stroke-width="0.9" fill="none"/>
<path d="M166.62,1430.3v2.9M202.65,1430.3v2.9M238.67,1430.3v2.9M310.71,1430.3v2.9M346.74,1430.3v2.9M382.76,1430.3v2.9M454.81,1430.3v2.9M490.83,1430.3v2.9M526.85,1430.3v2.9M598.9,1430.3v2.9M634.92,1430.3v2.9M670.94,1430.3v2.9M742.99,1430.3v2.9M779.01,1430.3v2.9M815.04,1430.3v2.9M130.6,1405.88h-2.9M130.6,1390.37h-2.9M130.6,1374.85h-2.9M130.6,1359.34h-2.9M130.6,1328.3h-2.9M130.6,1312.79h-2.9M130.6,1297.27h-2.9M130.6,1281.76h-2.9M130.6,1250.72h-2.9M130.6,1235.21h-2.9M130.6,1219.69h-2.9M130.6,1204.18h-2.9M130.6,1173.14h-2.9M130.6,1157.63h-2.9M130.6,1142.11h-2.9M130.6,1126.6h-2.9M130.6,1095.56h-2.9M130.6,1080.05h-2.9M130.6,1064.53h-2.9M130.6,1049.02h-2.9M130.6,1017.98h-2.9" stroke="#000" stroke-width="0.7" fill="none"/>
<rect x="130.6" y="1015.1" width="720.46" height="415.2" fill="none" stroke="#000" stroke-width="0.9"/>
<g font-family='"DejaVu Sans","Liberation Sans",sans-serif' font-size="10.75" fill="#000">
<text x="130.6" y="1446.5" text-anchor="middle">0.00</text>
<text x="274.69" y="1446.5" text-anchor="middle">0.02</text>
<text x="418.78" y="1446.5" text-anchor="middle">0.04</text>
<text x="562.88" y="1446.5" text-anchor="middle">0.06</text>
<text x="706.97" y="1446.5" text-anchor="middle">0.08</text>
<text x="851.06" y="1446.5" text-anchor="middle">0.10</text>
<text x="122.6" y="1425.4" text-anchor="end">0.5</text>
<text x="122.6" y="1347.82" text-anchor="end">0.6</text>
<text x="122.6" y="1270.24" text-anchor="end">0.7</text>
<text x="122.6" y="1192.66" text-anchor="end">0.8</text>
<text x="122.6" y="1115.08" text-anchor="end">0.9</text>
<text x="122.6" y="1037.5" text-anchor="end">1.0</text>
</g>
<text x="490.83" y="1471.6" text-anchor="middle" font-family='"DejaVu Sans","Liberation Sans",sans-serif' font-size="23.3" font-style="italic">r</text>
<text transform="translate(95,1226.7) rotate(-90)" text-anchor="middle" font-family='"DejaVu Sans","Liberation Sans",sans-serif' font-size="22.6">Сплошность</text>
<rect x="696.6" y="1293.5" width="145.7" height="127.9" rx="3" ry="3" fill="#fff" fill-opacity="0.8" stroke="#ccc" stroke-opacity="0.8" stroke-width="1.1"/>
<g font-family='"DejaVu Sans","Liberation Sans",sans-serif' font-size="17" fill="#000">
<use href="#sp" x="720.4" y="1307.8"/>
<text x="749.6" y="1313.2">t = 922.9</text>
<use href="#sb" x="720.4" y="1332.37"/>
<text x="749.6" y="1337.77">t = 1923</text>
<use href="#so" x="720.4" y="1356.94"/>
<text x="749.6" y="1362.34">t = 4923</text>
<use href="#sg" x="720.4" y="1381.51"/>
<text x="749.6" y="1386.91">t = 14923</text>
<use href="#sr" x="720.4" y="1406.08"/>
<text x="749.6" y="1411.48">t = 35000</text>
</g>
<text transform="translate(29,1488.8) scale(0.93,1)" font-family='"Liberation Serif","DejaVu Serif",serif' font-style="italic" font-size="40" stroke="#fff" stroke-width="0.1">c</text>
</svg></body></html>
